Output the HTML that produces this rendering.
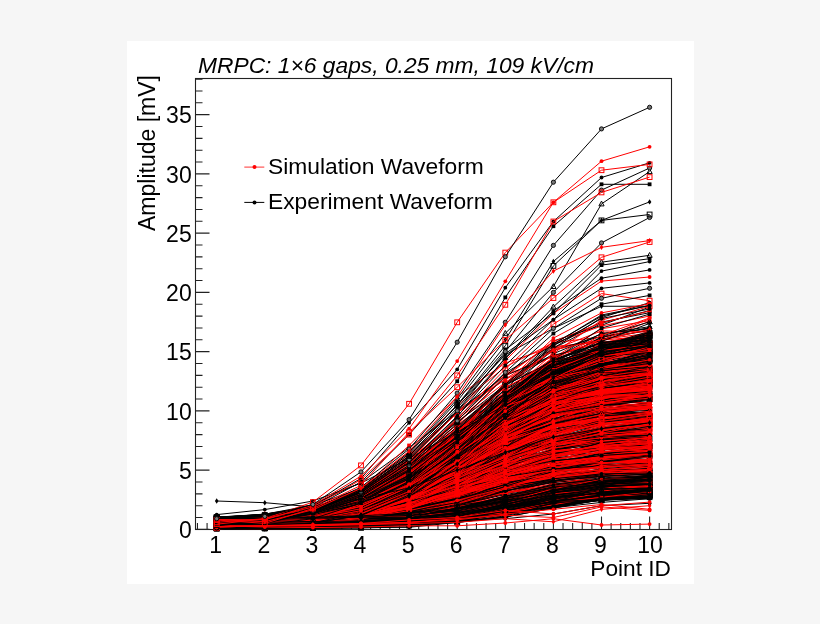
<!DOCTYPE html>
<html><head><meta charset="utf-8"><style>
html,body{margin:0;padding:0;background:#f6f6f6;width:820px;height:624px;overflow:hidden}
svg{display:block;filter:blur(0.35px)}
text{font-family:'Liberation Sans', sans-serif;font-size:23.0px;fill:#000}
.k,.r{fill:none;stroke-width:1.0}
.k{stroke:#000} .r{stroke:#f00}
.kc{marker-start:url(#mkc);marker-mid:url(#mkc);marker-end:url(#mkc)}.kq{marker-start:url(#mkq);marker-mid:url(#mkq);marker-end:url(#mkq)}.ks{marker-start:url(#mks);marker-mid:url(#mks);marker-end:url(#mks)}.ko{marker-start:url(#mko);marker-mid:url(#mko);marker-end:url(#mko)}.kt{marker-start:url(#mkt);marker-mid:url(#mkt);marker-end:url(#mkt)}.kd{marker-start:url(#mkd);marker-mid:url(#mkd);marker-end:url(#mkd)}.rc{marker-start:url(#mrc);marker-mid:url(#mrc);marker-end:url(#mrc)}.rq{marker-start:url(#mrq);marker-mid:url(#mrq);marker-end:url(#mrq)}.rs{marker-start:url(#mrs);marker-mid:url(#mrs);marker-end:url(#mrs)}.ro{marker-start:url(#mro);marker-mid:url(#mro);marker-end:url(#mro)}.rt{marker-start:url(#mrt);marker-mid:url(#mrt);marker-end:url(#mrt)}.rd{marker-start:url(#mrd);marker-mid:url(#mrd);marker-end:url(#mrd)}
</style></head><body>
<svg width="820" height="624" viewBox="0 0 820 624">
<defs><marker id="mkc" markerUnits="userSpaceOnUse" markerWidth="10" markerHeight="10" refX="5" refY="5" overflow="visible"><circle cx="5" cy="5" r="1.9" fill="#000"/></marker><marker id="mkq" markerUnits="userSpaceOnUse" markerWidth="10" markerHeight="10" refX="5" refY="5" overflow="visible"><rect x="3.1" y="3.1" width="3.8" height="3.8" fill="#000"/></marker><marker id="mks" markerUnits="userSpaceOnUse" markerWidth="10" markerHeight="10" refX="5" refY="5" overflow="visible"><rect x="2.6" y="2.6" width="4.8" height="4.8" fill="none" stroke="#000" stroke-width="1"/></marker><marker id="mko" markerUnits="userSpaceOnUse" markerWidth="10" markerHeight="10" refX="5" refY="5" overflow="visible"><circle cx="5" cy="5" r="2.1" fill="#777" stroke="#000" stroke-width="0.9"/></marker><marker id="mkt" markerUnits="userSpaceOnUse" markerWidth="10" markerHeight="10" refX="5" refY="5" overflow="visible"><path d="M5 2.2L7.6 7H2.4Z" fill="none" stroke="#000" stroke-width="1"/></marker><marker id="mkd" markerUnits="userSpaceOnUse" markerWidth="10" markerHeight="10" refX="5" refY="5" overflow="visible"><path d="M5 2.3L6.8 5L5 7.7L3.2 5Z" fill="#000"/></marker><marker id="mrc" markerUnits="userSpaceOnUse" markerWidth="10" markerHeight="10" refX="5" refY="5" overflow="visible"><circle cx="5" cy="5" r="1.9" fill="#f00"/></marker><marker id="mrq" markerUnits="userSpaceOnUse" markerWidth="10" markerHeight="10" refX="5" refY="5" overflow="visible"><rect x="3.1" y="3.1" width="3.8" height="3.8" fill="#f00"/></marker><marker id="mrs" markerUnits="userSpaceOnUse" markerWidth="10" markerHeight="10" refX="5" refY="5" overflow="visible"><rect x="2.6" y="2.6" width="4.8" height="4.8" fill="none" stroke="#f00" stroke-width="1"/></marker><marker id="mro" markerUnits="userSpaceOnUse" markerWidth="10" markerHeight="10" refX="5" refY="5" overflow="visible"><circle cx="5" cy="5" r="2.1" fill="#777" stroke="#f00" stroke-width="0.9"/></marker><marker id="mrt" markerUnits="userSpaceOnUse" markerWidth="10" markerHeight="10" refX="5" refY="5" overflow="visible"><path d="M5 2.2L7.6 7H2.4Z" fill="none" stroke="#f00" stroke-width="1"/></marker><marker id="mrd" markerUnits="userSpaceOnUse" markerWidth="10" markerHeight="10" refX="5" refY="5" overflow="visible"><path d="M5 2.3L6.8 5L5 7.7L3.2 5Z" fill="#f00"/></marker></defs>
<rect x="127" y="41" width="567" height="543" fill="#fff"/>
<text x="198" y="72.6" font-style="italic" style="font-size:22.8px">MRPC: 1×6 gaps, 0.25 mm, 109 kV/cm</text>
<rect x="195.5" y="78.5" width="476.0" height="451.0" fill="none" stroke="#222" stroke-width="1.1"/>
<path d="M195.5 529.40h14 M195.5 517.55h7 M195.5 505.70h7 M195.5 493.85h7 M195.5 482.00h7 M195.5 470.15h14 M195.5 458.30h7 M195.5 446.45h7 M195.5 434.60h7 M195.5 422.75h7 M195.5 410.90h14 M195.5 399.05h7 M195.5 387.20h7 M195.5 375.35h7 M195.5 363.50h7 M195.5 351.65h14 M195.5 339.80h7 M195.5 327.95h7 M195.5 316.10h7 M195.5 304.25h7 M195.5 292.40h14 M195.5 280.55h7 M195.5 268.70h7 M195.5 256.85h7 M195.5 245.00h7 M195.5 233.15h14 M195.5 221.30h7 M195.5 209.45h7 M195.5 197.60h7 M195.5 185.75h7 M195.5 173.90h14 M195.5 162.05h7 M195.5 150.20h7 M195.5 138.35h7 M195.5 126.50h7 M195.5 114.65h14 M195.5 102.80h7 M195.5 90.95h7 M195.5 79.10h7 M197.46 529.5v-6.5 M207.08 529.5v-6.5 M216.70 529.5v-13 M226.32 529.5v-6.5 M235.94 529.5v-6.5 M245.56 529.5v-6.5 M255.18 529.5v-6.5 M264.80 529.5v-13 M274.42 529.5v-6.5 M284.04 529.5v-6.5 M293.66 529.5v-6.5 M303.28 529.5v-6.5 M312.90 529.5v-13 M322.52 529.5v-6.5 M332.14 529.5v-6.5 M341.76 529.5v-6.5 M351.38 529.5v-6.5 M361.00 529.5v-13 M370.62 529.5v-6.5 M380.24 529.5v-6.5 M389.86 529.5v-6.5 M399.48 529.5v-6.5 M409.10 529.5v-13 M418.72 529.5v-6.5 M428.34 529.5v-6.5 M437.96 529.5v-6.5 M447.58 529.5v-6.5 M457.20 529.5v-13 M466.82 529.5v-6.5 M476.44 529.5v-6.5 M486.06 529.5v-6.5 M495.68 529.5v-6.5 M505.30 529.5v-13 M514.92 529.5v-6.5 M524.54 529.5v-6.5 M534.16 529.5v-6.5 M543.78 529.5v-6.5 M553.40 529.5v-13 M563.02 529.5v-6.5 M572.64 529.5v-6.5 M582.26 529.5v-6.5 M591.88 529.5v-6.5 M601.50 529.5v-13 M611.12 529.5v-6.5 M620.74 529.5v-6.5 M630.36 529.5v-6.5 M639.98 529.5v-6.5 M649.60 529.5v-13 M659.22 529.5v-6.5 M668.84 529.5v-6.5" stroke="#222" stroke-width="1.1" fill="none"/>
<g>
<polyline points="216.7,520.3 264.8,521 312.9,516.7 361,512.4 409.1,503 457.2,485.6 505.3,468.3 553.4,458.2 601.5,453.6 649.6,452.8" class="k kd"/>
<polyline points="216.7,520.3 264.8,517.6 312.9,512.3 361,500.1 409.1,477.5 457.2,449.5 505.3,418.6 553.4,394.1 601.5,381.1 649.6,373.6" class="k kc"/>
<polyline points="216.7,525.6 264.8,525.7 312.9,518.9 361,509.7 409.1,493 457.2,469.1 505.3,439.5 553.4,407.2 601.5,387.9 649.6,377.8" class="k ks"/>
<polyline points="216.7,526.1 264.8,524.4 312.9,519.1 361,508.6 409.1,482.8 457.2,449 505.3,417.1 553.4,397 601.5,384.6 649.6,380.1" class="k kq"/>
<polyline points="216.7,522.9 264.8,523.4 312.9,515.3 361,504.9 409.1,482.6 457.2,444.2 505.3,409.1 553.4,387.6 601.5,381.3 649.6,376.4" class="k kq"/>
<polyline points="216.7,524.4 264.8,524.5 312.9,522.2 361,521.3 409.1,516.2 457.2,507.5 505.3,498 553.4,485.7 601.5,475.9 649.6,471" class="k ks"/>
<polyline points="216.7,520.3 264.8,518.2 312.9,517.3 361,513.8 409.1,505.7 457.2,495.8 505.3,484 553.4,474.8 601.5,470.6 649.6,466.2" class="k kt"/>
<polyline points="216.7,524.7 264.8,525 312.9,523 361,520.2 409.1,511.1 457.2,497.5 505.3,475.3 553.4,453.7 601.5,437.3 649.6,426.2" class="k kq"/>
<polyline points="216.7,525.5 264.8,525.6 312.9,523.9 361,522.3 409.1,518.2 457.2,504.6 505.3,484 553.4,461.3 601.5,448.3 649.6,442.5" class="k kq"/>
<polyline points="216.7,518.7 264.8,517.7 312.9,514.9 361,509.8 409.1,497 457.2,472.8 505.3,443.2 553.4,415.1 601.5,400.8 649.6,392.1" class="k kt"/>
<polyline points="216.7,524.7 264.8,523.6 312.9,522.2 361,517.5 409.1,506.6 457.2,484.2 505.3,450.8 553.4,417.3 601.5,395.2 649.6,382.5" class="k kq"/>
<polyline points="216.7,522.8 264.8,520.8 312.9,514.3 361,504.3 409.1,485.8 457.2,460.3 505.3,430.4 553.4,403.9 601.5,387.7 649.6,381.7" class="k kt"/>
<polyline points="216.7,520.8 264.8,520.1 312.9,518.2 361,512.1 409.1,500.6 457.2,477.2 505.3,446.1 553.4,415 601.5,395.2 649.6,386.5" class="k ks"/>
<polyline points="216.7,519.2 264.8,517.8 312.9,512.3 361,500.8 409.1,483.2 457.2,456.6 505.3,434.7 553.4,416.4 601.5,408.4 649.6,407.4" class="k kd"/>
<polyline points="216.7,518.8 264.8,516.5 312.9,512.7 361,502.5 409.1,487.1 457.2,467 505.3,444.6 553.4,427.4 601.5,413.9 649.6,412.7" class="k kc"/>
<polyline points="216.7,526.6 264.8,527.2 312.9,524.3 361,518.6 409.1,504.9 457.2,476.9 505.3,428.1 553.4,382.9 601.5,358 649.6,340.8" class="r rc"/>
<polyline points="216.7,520 264.8,517.9 312.9,515.8 361,509 409.1,494.6 457.2,473.1 505.3,449.8 553.4,437.2 601.5,431.2 649.6,428.8" class="k kc"/>
<polyline points="216.7,524.1 264.8,522.3 312.9,521.8 361,517 409.1,507.4 457.2,491.1 505.3,477 553.4,469.9 601.5,465.5 649.6,462.1" class="r rs"/>
<polyline points="216.7,518.6 264.8,515.4 312.9,513 361,504.1 409.1,487.1 457.2,460.9 505.3,433.9 553.4,410.1 601.5,397.5 649.6,392.2" class="k kq"/>
<polyline points="216.7,525.3 264.8,523.5 312.9,519.8 361,512.1 409.1,498.2 457.2,477.8 505.3,456.5 553.4,439.1 601.5,424.5 649.6,420.5" class="k kq"/>
<polyline points="216.7,525 264.8,523 312.9,516 361,506.7 409.1,489.7 457.2,468.4 505.3,453.3 553.4,444.4 601.5,441.7 649.6,438.4" class="r rc"/>
<polyline points="216.7,524.2 264.8,524.5 312.9,518.5 361,510.9 409.1,498.3 457.2,474.7 505.3,447.9 553.4,428.1 601.5,409.5 649.6,402" class="r rc"/>
<polyline points="216.7,526 264.8,524.8 312.9,522.7 361,517.4 409.1,501.3 457.2,474.5 505.3,440.2 553.4,410.2 601.5,393.8 649.6,390.6" class="k kd"/>
<polyline points="216.7,517.6 264.8,515.6 312.9,514.8 361,510 409.1,495.9 457.2,469.8 505.3,434.7 553.4,404.3 601.5,395.9 649.6,390.3" class="k kc"/>
<polyline points="216.7,528.1 264.8,527.7 312.9,522.8 361,517.4 409.1,505.4 457.2,480.3 505.3,451.7 553.4,426.8 601.5,409.3 649.6,403.7" class="r rc"/>
<polyline points="216.7,524.9 264.8,524.5 312.9,521.5 361,516.9 409.1,510 457.2,492.5 505.3,469.7 553.4,448.6 601.5,438.1 649.6,430.2" class="k kc"/>
<polyline points="216.7,525.8 264.8,523.6 312.9,523.9 361,519.9 409.1,513.1 457.2,499.6 505.3,483.9 553.4,471.4 601.5,465.6 649.6,463.7" class="r rc"/>
<polyline points="216.7,521.7 264.8,516.8 312.9,508.8 361,489.7 409.1,460.9 457.2,424.6 505.3,392.6 553.4,375.7 601.5,358.6 649.6,359.3" class="r rq"/>
<polyline points="216.7,521.7 264.8,518 312.9,511.4 361,495.6 409.1,471.3 457.2,441.5 505.3,410.7 553.4,393.8 601.5,379.6 649.6,374" class="r rs"/>
<polyline points="216.7,525.2 264.8,521.1 312.9,509.7 361,490.6 409.1,456.7 457.2,412.8 505.3,375 553.4,356.3 601.5,340.1 649.6,336.2" class="r rc"/>
<polyline points="216.7,527.2 264.8,525.8 312.9,522 361,512.8 409.1,495.7 457.2,466.9 505.3,430.2 553.4,404.3 601.5,387.5 649.6,379.7" class="k kd"/>
<polyline points="216.7,520.8 264.8,518.5 312.9,509.8 361,495.5 409.1,472.1 457.2,443.3 505.3,418.9 553.4,407.3 601.5,397 649.6,395.4" class="r rc"/>
<polyline points="216.7,522.9 264.8,522.9 312.9,519.3 361,512 409.1,497.6 457.2,472.3 505.3,438.4 553.4,406.4 601.5,392.5 649.6,381.4" class="r rc"/>
<polyline points="216.7,519.9 264.8,518.7 312.9,517 361,512.6 409.1,498.9 457.2,472.2 505.3,435.5 553.4,407.2 601.5,393.7 649.6,389.3" class="r rc"/>
<polyline points="216.7,518.9 264.8,517.4 312.9,514.2 361,508.1 409.1,496.6 457.2,478.4 505.3,454 553.4,433 601.5,416.1 649.6,406" class="k kq"/>
<polyline points="216.7,526.2 264.8,524.7 312.9,522.3 361,512.9 409.1,495.7 457.2,462 505.3,421.9 553.4,390.8 601.5,373.6 649.6,365.4" class="r rd"/>
<polyline points="216.7,518.3 264.8,518.8 312.9,516.9 361,512.1 409.1,501.2 457.2,476.2 505.3,435 553.4,395.6 601.5,370 649.6,359.8" class="k kt"/>
<polyline points="216.7,524.2 264.8,522.2 312.9,519.7 361,512.8 409.1,500.3 457.2,480.2 505.3,460.2 553.4,439 601.5,432.6 649.6,426.7" class="r rq"/>
<polyline points="216.7,524.6 264.8,522.9 312.9,520.6 361,512.5 409.1,495.5 457.2,467.4 505.3,431.9 553.4,400.2 601.5,381.7 649.6,371.3" class="r rc"/>
<polyline points="216.7,522.9 264.8,519.4 312.9,513.1 361,497.9 409.1,472.9 457.2,437.7 505.3,407.2 553.4,381.5 601.5,369.6 649.6,366.2" class="r rd"/>
<polyline points="216.7,526.4 264.8,520 312.9,510.5 361,491.8 409.1,462.6 457.2,433.3 505.3,408.7 553.4,392.9 601.5,387.9 649.6,380.7" class="r rd"/>
<polyline points="216.7,523.6 264.8,523.8 312.9,521.6 361,519.9 409.1,514.2 457.2,500.3 505.3,483.3 553.4,469.1 601.5,458.3 649.6,455" class="r rq"/>
<polyline points="216.7,526.6 264.8,525.6 312.9,520.6 361,511.8 409.1,487.6 457.2,450.8 505.3,409.2 553.4,373.8 601.5,349.2 649.6,340.9" class="r rc"/>
<polyline points="216.7,526.4 264.8,525 312.9,522.9 361,517.1 409.1,500.3 457.2,470.4 505.3,429.3 553.4,391.3 601.5,374.1 649.6,365.8" class="k kt"/>
<polyline points="216.7,522.1 264.8,522.6 312.9,518.2 361,509.8 409.1,492.1 457.2,458.3 505.3,420.2 553.4,392.1 601.5,376.5 649.6,372" class="r rc"/>
<polyline points="216.7,521.8 264.8,517.3 312.9,514.8 361,502.8 409.1,482.7 457.2,454.9 505.3,425.9 553.4,403.4 601.5,390.3 649.6,384.3" class="r rc"/>
<polyline points="216.7,521.2 264.8,519.6 312.9,517.5 361,510 409.1,497.7 457.2,476.6 505.3,454.5 553.4,434.2 601.5,422.8 649.6,419" class="r rd"/>
<polyline points="216.7,525.5 264.8,523.4 312.9,521.4 361,511.9 409.1,494.3 457.2,462.4 505.3,431.3 553.4,409.4 601.5,401.8 649.6,399" class="r rq"/>
<polyline points="216.7,518.6 264.8,517.3 312.9,512.9 361,503.8 409.1,485.8 457.2,460.2 505.3,425.4 553.4,396.3 601.5,377.8 649.6,368.2" class="k kc"/>
<polyline points="216.7,525.6 264.8,523.1 312.9,519.8 361,509.2 409.1,487.8 457.2,449.8 505.3,406.6 553.4,368.4 601.5,350.3 649.6,338.2" class="r rc"/>
<polyline points="216.7,527.6 264.8,525.6 312.9,517.2 361,504.1 409.1,482.9 457.2,451.9 505.3,418.9 553.4,397.8 601.5,381.7 649.6,375.5" class="r rc"/>
<polyline points="216.7,527.5 264.8,526.9 312.9,524.2 361,513.4 409.1,497.4 457.2,465.1 505.3,424.5 553.4,389.3 601.5,373.2 649.6,363" class="k kc"/>
<polyline points="216.7,527.7 264.8,527.3 312.9,522.7 361,512.8 409.1,490.5 457.2,453.6 505.3,412 553.4,383.1 601.5,364.8 649.6,359" class="k kc"/>
<polyline points="216.7,524.7 264.8,524.4 312.9,520.4 361,516.9 409.1,506.1 457.2,492.3 505.3,475.6 553.4,461.6 601.5,454.1 649.6,449.8" class="k kc"/>
<polyline points="216.7,527.8 264.8,523.8 312.9,515.2 361,499.8 409.1,471 457.2,431.4 505.3,385 553.4,341 601.5,325.3 649.6,307" class="k kc"/>
<polyline points="216.7,524 264.8,521.1 312.9,516 361,504.3 409.1,480 457.2,449.7 505.3,413.6 553.4,389.6 601.5,375.4 649.6,364.8" class="r rc"/>
<polyline points="216.7,523.5 264.8,522.3 312.9,514.8 361,506.4 409.1,488.4 457.2,463.2 505.3,441.7 553.4,425.2 601.5,419.5 649.6,415.1" class="r rc"/>
<polyline points="216.7,526.4 264.8,526.6 312.9,525.6 361,526.6 409.1,524.9 457.2,517.5 505.3,506.5 553.4,493 601.5,485.1 649.6,481.4" class="k kt"/>
<polyline points="216.7,522.8 264.8,521.8 312.9,519.4 361,515.2 409.1,508.1 457.2,495.9 505.3,486.5 553.4,476.4 601.5,472.1 649.6,468" class="k kd"/>
<polyline points="216.7,526.4 264.8,526.5 312.9,521 361,512.6 409.1,493.1 457.2,461.9 505.3,431.9 553.4,414.5 601.5,402.4 649.6,402.6" class="r rc"/>
<polyline points="216.7,525 264.8,523.6 312.9,521.2 361,512.5 409.1,494.4 457.2,465.9 505.3,435.6 553.4,415.4 601.5,405.7 649.6,398.2" class="r rc"/>
<polyline points="216.7,528.6 264.8,528.3 312.9,527 361,526.4 409.1,522.6 457.2,518 505.3,507.7 553.4,498.8 601.5,491.7 649.6,488.1" class="k kc"/>
<polyline points="216.7,523.5 264.8,519.2 312.9,514 361,500.5 409.1,476.5 457.2,446.1 505.3,404.5 553.4,369.5 601.5,349.1 649.6,335.4" class="k kq"/>
<polyline points="216.7,527.8 264.8,528.5 312.9,528.5 361,525.8 409.1,522.9 457.2,512.6 505.3,498.4 553.4,485.5 601.5,480.5 649.6,479.4" class="k kt"/>
<polyline points="216.7,525.5 264.8,523.6 312.9,517.3 361,506.4 409.1,488.6 457.2,465.9 505.3,442.3 553.4,425.6 601.5,415.2 649.6,407.3" class="k kc"/>
<polyline points="216.7,522.2 264.8,520.1 312.9,516.6 361,508.8 409.1,494 457.2,477.1 505.3,459.7 553.4,450 601.5,443.3 649.6,442.2" class="r rt"/>
<polyline points="216.7,525.1 264.8,526.1 312.9,524.2 361,523.1 409.1,521.5 457.2,514.5 505.3,502.7 553.4,491.4 601.5,484.3 649.6,481.1" class="r rc"/>
<polyline points="216.7,517.9 264.8,517.8 312.9,518.1 361,516 409.1,515.6 457.2,512.8 505.3,507 553.4,500 601.5,495 649.6,491.3" class="k kc"/>
<polyline points="216.7,522.2 264.8,520.9 312.9,519.1 361,513.9 409.1,500.5 457.2,473.8 505.3,436.2 553.4,395.2 601.5,373 649.6,362.1" class="k kc"/>
<polyline points="216.7,520.2 264.8,520.3 312.9,520.2 361,518.5 409.1,514.9 457.2,508.6 505.3,501.8 553.4,494.5 601.5,493.1 649.6,489.6" class="k kd"/>
<polyline points="216.7,526.9 264.8,523.4 312.9,521.2 361,512.7 409.1,497.4 457.2,474.9 505.3,450.1 553.4,429.5 601.5,413.5 649.6,406.8" class="r rc"/>
<polyline points="216.7,518.7 264.8,518 312.9,515.1 361,509.7 409.1,496 457.2,468.3 505.3,434.7 553.4,400.1 601.5,383.5 649.6,372.7" class="k kd"/>
<polyline points="216.7,522.3 264.8,521 312.9,517.3 361,509.9 409.1,496.6 457.2,481 505.3,465.4 553.4,455.1 601.5,447.1 649.6,446.2" class="r rq"/>
<polyline points="216.7,521.6 264.8,518.6 312.9,514.2 361,503.5 409.1,479.6 457.2,442.1 505.3,398.1 553.4,367.6 601.5,344.5 649.6,334" class="k kc"/>
<polyline points="216.7,524.9 264.8,520.1 312.9,511.3 361,494.6 409.1,459 457.2,412.2 505.3,379.1 553.4,348.1 601.5,339.5 649.6,333.1" class="r rc"/>
<polyline points="216.7,525.1 264.8,522.6 312.9,518 361,508 409.1,488.7 457.2,456.4 505.3,418.2 553.4,380.7 601.5,361.2 649.6,346.8" class="r rt"/>
<polyline points="216.7,521.6 264.8,522 312.9,521.2 361,520.8 409.1,520.4 457.2,516.9 505.3,514.6 553.4,507.8 601.5,502.4 649.6,498.7" class="k kc"/>
<polyline points="216.7,521.7 264.8,521.2 312.9,518.8 361,510.2 409.1,494.9 457.2,466.6 505.3,425.9 553.4,396.2 601.5,376.7 649.6,371.4" class="r rc"/>
<polyline points="216.7,524.6 264.8,522.6 312.9,519.7 361,512.3 409.1,501.7 457.2,486.1 505.3,469.1 553.4,460.4 601.5,452 649.6,448.4" class="r rt"/>
<polyline points="216.7,521.8 264.8,519.7 312.9,511.4 361,497 409.1,471.2 457.2,433.6 505.3,395.1 553.4,363.2 601.5,349.4 649.6,337.2" class="k kq"/>
<polyline points="216.7,524.2 264.8,524.6 312.9,523.4 361,521.9 409.1,518.4 457.2,512.2 505.3,503.6 553.4,492.5 601.5,487.8 649.6,484.8" class="k kc"/>
<polyline points="216.7,526.4 264.8,524.5 312.9,520.2 361,510.7 409.1,494.7 457.2,471.8 505.3,447.4 553.4,429.5 601.5,419.2 649.6,412.2" class="k kc"/>
<polyline points="216.7,525.7 264.8,524.2 312.9,518.7 361,512 409.1,496.9 457.2,478.9 505.3,458.7 553.4,444.4 601.5,433.6 649.6,429.3" class="r rt"/>
<polyline points="216.7,520.7 264.8,519.3 312.9,518.7 361,512.8 409.1,506.3 457.2,496.3 505.3,485.5 553.4,474.7 601.5,469.7 649.6,469.1" class="r rc"/>
<polyline points="216.7,521.1 264.8,517.8 312.9,513.3 361,503.1 409.1,485 457.2,457.9 505.3,429.9 553.4,405.5 601.5,389.5 649.6,382.1" class="k kq"/>
<polyline points="216.7,523.2 264.8,523.5 312.9,523 361,520.8 409.1,519.6 457.2,512.7 505.3,501 553.4,494.3 601.5,489.5 649.6,487" class="r rc"/>
<polyline points="216.7,526.5 264.8,525.4 312.9,525 361,519.5 409.1,511.5 457.2,500.7 505.3,489.5 553.4,478.5 601.5,474.2 649.6,471.7" class="k ks"/>
<polyline points="216.7,525.8 264.8,522.1 312.9,516 361,501.4 409.1,478.1 457.2,447.1 505.3,416.9 553.4,395.1 601.5,380 649.6,370.5" class="r rs"/>
<polyline points="216.7,527.9 264.8,525.7 312.9,518.1 361,502.5 409.1,478.5 457.2,444.6 505.3,414 553.4,394.4 601.5,382.6 649.6,381.2" class="r rs"/>
<polyline points="216.7,527.7 264.8,524.5 312.9,519.5 361,508.5 409.1,487.3 457.2,455 505.3,420.9 553.4,396.4 601.5,376.4 649.6,371.3" class="k kc"/>
<polyline points="216.7,523.4 264.8,523 312.9,519.3 361,509.6 409.1,489.7 457.2,452.8 505.3,416.6 553.4,393.3 601.5,382.8 649.6,374.2" class="k kd"/>
<polyline points="216.7,519.4 264.8,517.5 312.9,514 361,506 409.1,493.2 457.2,473.1 505.3,451.5 553.4,436.9 601.5,429.7 649.6,424.8" class="k kt"/>
<polyline points="216.7,521.2 264.8,521.9 312.9,518.8 361,515.2 409.1,508 457.2,494.3 505.3,478.7 553.4,468.2 601.5,462.3 649.6,459.6" class="k kc"/>
<polyline points="216.7,525.8 264.8,524.3 312.9,517.6 361,504.4 409.1,479.4 457.2,439.8 505.3,400.7 553.4,370.1 601.5,348.8 649.6,339.9" class="k kc"/>
<polyline points="216.7,528.5 264.8,528.1 312.9,522.1 361,510.2 409.1,491.2 457.2,450.6 505.3,406.9 553.4,374.8 601.5,354.2 649.6,352.2" class="k kd"/>
<polyline points="216.7,522.8 264.8,523.4 312.9,522.7 361,522.1 409.1,518.9 457.2,514.5 505.3,505.5 553.4,493 601.5,487.2 649.6,483.9" class="k kt"/>
<polyline points="216.7,528.8 264.8,525.6 312.9,519 361,501.9 409.1,475.9 457.2,432.3 505.3,382.7 553.4,348.4 601.5,323.3 649.6,310.5" class="k kq"/>
<polyline points="216.7,528.4 264.8,527.2 312.9,526.5 361,524.6 409.1,519.3 457.2,507.6 505.3,489.7 553.4,470.5 601.5,457 649.6,448.6" class="k kc"/>
<polyline points="216.7,522.7 264.8,520.7 312.9,516.5 361,507.8 409.1,494.5 457.2,477.2 505.3,459.7 553.4,446.3 601.5,436.7 649.6,432.7" class="r rt"/>
<polyline points="216.7,520.6 264.8,519.8 312.9,519.8 361,515.6 409.1,509.2 457.2,497.9 505.3,488.2 553.4,480.4 601.5,476.3 649.6,473.1" class="r rc"/>
<polyline points="216.7,523.8 264.8,521.5 312.9,517.8 361,506.6 409.1,489.4 457.2,460.5 505.3,424.2 553.4,395.5 601.5,373.6 649.6,361.5" class="r rc"/>
<polyline points="216.7,525.4 264.8,524.8 312.9,523.4 361,519.9 409.1,512.4 457.2,502.2 505.3,489.3 553.4,480.5 601.5,476.1 649.6,473.2" class="r rd"/>
<polyline points="216.7,522.9 264.8,521.6 312.9,522.6 361,519.4 409.1,517.3 457.2,511.1 505.3,504.9 553.4,498.8 601.5,495.9 649.6,493.3" class="r rc"/>
<polyline points="216.7,527.9 264.8,526.6 312.9,519.3 361,508.7 409.1,487.4 457.2,457.5 505.3,422.6 553.4,398.6 601.5,382 649.6,378.2" class="r rs"/>
<polyline points="216.7,527.3 264.8,526 312.9,522.7 361,511.4 409.1,491.2 457.2,455.3 505.3,415.9 553.4,383.2 601.5,362.9 649.6,357.3" class="k kc"/>
<polyline points="216.7,522.3 264.8,521.5 312.9,521.4 361,520.5 409.1,517.5 457.2,512.5 505.3,505.3 553.4,498.2 601.5,494 649.6,491.5" class="k kq"/>
<polyline points="216.7,520.1 264.8,519.6 312.9,519 361,513.9 409.1,507 457.2,491.1 505.3,475 553.4,467.8 601.5,461.7 649.6,460" class="r rc"/>
<polyline points="216.7,527.9 264.8,523.4 312.9,511.3 361,492.8 409.1,463.1 457.2,434.6 505.3,412.3 553.4,397 601.5,389.4 649.6,387" class="r rc"/>
<polyline points="216.7,518.1 264.8,515.7 312.9,511.3 361,500.2 409.1,476.4 457.2,444.3 505.3,408.9 553.4,384.8 601.5,372.6 649.6,369.9" class="k kc"/>
<polyline points="216.7,517.4 264.8,517 312.9,513.8 361,509.4 409.1,493.9 457.2,472.5 505.3,445.4 553.4,429.3 601.5,415.8 649.6,412.5" class="k kc"/>
<polyline points="216.7,522.2 264.8,521.6 312.9,518.1 361,510.6 409.1,493.6 457.2,457.1 505.3,410 553.4,375.6 601.5,353.4 649.6,345.2" class="k kq"/>
<polyline points="216.7,518.1 264.8,517.9 312.9,515.3 361,510.6 409.1,497.9 457.2,473.9 505.3,433.1 553.4,399.4 601.5,380.4 649.6,369.7" class="k kt"/>
<polyline points="216.7,528 264.8,524.3 312.9,520.3 361,508.7 409.1,487.1 457.2,457.1 505.3,414.2 553.4,375.7 601.5,347.6 649.6,332" class="k kd"/>
<polyline points="216.7,517.3 264.8,515.7 312.9,510.2 361,498.5 409.1,480.2 457.2,451.7 505.3,417.3 553.4,389.5 601.5,369.4 649.6,359.8" class="k ks"/>
<polyline points="216.7,526.7 264.8,525.8 312.9,525.7 361,523.7 409.1,517.8 457.2,507.2 505.3,491.7 553.4,481.6 601.5,476.3 649.6,476" class="r rq"/>
<polyline points="216.7,522.4 264.8,522 312.9,519.1 361,511.2 409.1,494.1 457.2,455.4 505.3,404.9 553.4,363.4 601.5,336.7 649.6,327.9" class="k kq"/>
<polyline points="216.7,522.9 264.8,523.4 312.9,522.3 361,523.6 409.1,519.8 457.2,517.6 505.3,510.7 553.4,499.9 601.5,490.9 649.6,486.6" class="k kc"/>
<polyline points="216.7,521.5 264.8,520.7 312.9,515.9 361,505.5 409.1,481.2 457.2,445 505.3,405.3 553.4,379.9 601.5,369.7 649.6,365.8" class="r rc"/>
<polyline points="216.7,524.8 264.8,524.3 312.9,524.4 361,523 409.1,519.2 457.2,511.3 505.3,496.2 553.4,489.1 601.5,484.6 649.6,482.7" class="r rd"/>
<polyline points="216.7,523.5 264.8,522.1 312.9,516.4 361,509.2 409.1,493.9 457.2,471.1 505.3,444.6 553.4,419.2 601.5,403.2 649.6,394.6" class="r rq"/>
<polyline points="216.7,521.3 264.8,517.6 312.9,509.5 361,491.1 409.1,461.8 457.2,419.6 505.3,382.3 553.4,362.4 601.5,348.8 649.6,345.5" class="r rc"/>
<polyline points="216.7,521.9 264.8,521.2 312.9,521.7 361,517.5 409.1,513 457.2,505.3 505.3,493.6 553.4,484.8 601.5,478.8 649.6,476.1" class="r rc"/>
<polyline points="216.7,526.1 264.8,526.2 312.9,523.7 361,519.4 409.1,506.7 457.2,483.7 505.3,451.4 553.4,423.8 601.5,408.8 649.6,404.4" class="k kc"/>
<polyline points="216.7,523.6 264.8,520.3 312.9,518 361,510.6 409.1,495.5 457.2,475.5 505.3,455.3 553.4,437.1 601.5,428.3 649.6,423.5" class="k ks"/>
<polyline points="216.7,524.6 264.8,522.1 312.9,519.4 361,507.9 409.1,488.7 457.2,455.7 505.3,421.1 553.4,402.2 601.5,390.2 649.6,386.7" class="k kc"/>
<polyline points="216.7,522.4 264.8,522.5 312.9,521.8 361,521.9 409.1,518.9 457.2,513 505.3,505.1 553.4,494.4 601.5,485.3 649.6,480.3" class="k kq"/>
<polyline points="216.7,526.6 264.8,524.4 312.9,521.2 361,510.7 409.1,492.6 457.2,462 505.3,425.6 553.4,401.3 601.5,383.3 649.6,373.9" class="r rc"/>
<polyline points="216.7,521.6 264.8,520.2 312.9,516.5 361,509.4 409.1,499 457.2,482 505.3,463.2 553.4,448.6 601.5,438.4 649.6,433.7" class="k kc"/>
<polyline points="216.7,522 264.8,521.6 312.9,521.9 361,520.1 409.1,521.1 457.2,518.7 505.3,514.8 553.4,503.7 601.5,493.5 649.6,487.3" class="k kq"/>
<polyline points="216.7,521.5 264.8,520.5 312.9,519.9 361,515.5 409.1,505.8 457.2,490.3 505.3,471.8 553.4,459.3 601.5,451.6 649.6,448.4" class="r rt"/>
<polyline points="216.7,528.8 264.8,528.5 312.9,527.2 361,522.8 409.1,514.6 457.2,498.9 505.3,483.1 553.4,469.8 601.5,465.1 649.6,463.2" class="k kt"/>
<polyline points="216.7,526.1 264.8,524.2 312.9,517 361,504.4 409.1,485 457.2,456.4 505.3,432.2 553.4,413 601.5,403.4 649.6,399.5" class="r rs"/>
<polyline points="216.7,528.3 264.8,525.9 312.9,518.6 361,503 409.1,475.5 457.2,438.9 505.3,410.6 553.4,386.5 601.5,377.7 649.6,372.5" class="r rs"/>
<polyline points="216.7,525 264.8,522.2 312.9,520.7 361,515 409.1,501.4 457.2,482.2 505.3,459.6 553.4,440.8 601.5,432.8 649.6,424.8" class="k kt"/>
<polyline points="216.7,526.4 264.8,523.9 312.9,522.5 361,512.8 409.1,496.8 457.2,468.4 505.3,440.4 553.4,418.3 601.5,409.9 649.6,406.4" class="k kc"/>
<polyline points="216.7,524.2 264.8,520.6 312.9,509.5 361,489.4 409.1,452.2 457.2,405.5 505.3,366.9 553.4,342.8 601.5,336.9 649.6,330.6" class="r rd"/>
<polyline points="216.7,522 264.8,522.1 312.9,517.9 361,511.4 409.1,499.7 457.2,476.4 505.3,446.3 553.4,413.7 601.5,393.5 649.6,383.9" class="k kd"/>
<polyline points="216.7,522 264.8,519.5 312.9,513.5 361,504.8 409.1,488.1 457.2,465.1 505.3,446.9 553.4,431.5 601.5,426.6 649.6,423.6" class="r rs"/>
<polyline points="216.7,519.9 264.8,520 312.9,519.2 361,518.8 409.1,516.9 457.2,512.1 505.3,500.2 553.4,486.8 601.5,479.4 649.6,475.4" class="r rc"/>
<polyline points="216.7,525.1 264.8,523.6 312.9,519.5 361,512.5 409.1,496.5 457.2,475.6 505.3,450.2 553.4,431.7 601.5,420.5 649.6,416.7" class="r rc"/>
<polyline points="216.7,527 264.8,526.8 312.9,526.6 361,523.1 409.1,521.2 457.2,514.3 505.3,502.5 553.4,491.8 601.5,483.7 649.6,478.4" class="r rc"/>
<polyline points="216.7,528.4 264.8,527.8 312.9,524.8 361,516.8 409.1,503.9 457.2,482.4 505.3,460.9 553.4,446.4 601.5,443.3 649.6,439.2" class="k kq"/>
<polyline points="216.7,526.7 264.8,523.5 312.9,518.3 361,505.5 409.1,484.6 457.2,455.2 505.3,425.1 553.4,401.7 601.5,385.8 649.6,379" class="r rq"/>
<polyline points="216.7,526.4 264.8,526.5 312.9,525.5 361,526.7 409.1,522.6 457.2,517.9 505.3,506.2 553.4,495.5 601.5,488.5 649.6,485.6" class="r rt"/>
<polyline points="216.7,528.1 264.8,526.4 312.9,520.4 361,507.9 409.1,483.5 457.2,445.7 505.3,396.9 553.4,360.7 601.5,338.6 649.6,318.7" class="r rc"/>
<polyline points="216.7,525.7 264.8,525.1 312.9,520.4 361,514.5 409.1,496.5 457.2,469.4 505.3,438.6 553.4,415.3 601.5,401.2 649.6,394" class="k ks"/>
<polyline points="216.7,524.4 264.8,521.7 312.9,518.6 361,507.4 409.1,490.4 457.2,468.5 505.3,448.8 553.4,438.3 601.5,432.1 649.6,427.3" class="r rs"/>
<polyline points="216.7,524.2 264.8,524 312.9,521.5 361,516.7 409.1,507.8 457.2,495.4 505.3,480 553.4,466.9 601.5,457.4 649.6,454.3" class="r rs"/>
<polyline points="216.7,521.5 264.8,520 312.9,518 361,516.4 409.1,509 457.2,495.5 505.3,481.4 553.4,471.2 601.5,467.4 649.6,464" class="r rs"/>
<polyline points="216.7,521.2 264.8,522.2 312.9,521.1 361,518.8 409.1,513.5 457.2,504.9 505.3,493.1 553.4,485.7 601.5,480 649.6,477.9" class="k kc"/>
<polyline points="216.7,522.2 264.8,520.3 312.9,518.4 361,512 409.1,500.2 457.2,479.8 505.3,458.2 553.4,447 601.5,438.7 649.6,436.2" class="r rq"/>
<polyline points="216.7,524 264.8,524 312.9,518.4 361,510.6 409.1,492.9 457.2,464 505.3,432.1 553.4,415 601.5,409.8 649.6,404.6" class="r rc"/>
<polyline points="216.7,519.6 264.8,517.7 312.9,518.3 361,519.1 409.1,516.8 457.2,511.7 505.3,502.8 553.4,495.6 601.5,489.7 649.6,485.8" class="k kq"/>
<polyline points="216.7,523.3 264.8,523.3 312.9,522 361,520.2 409.1,520.3 457.2,512.1 505.3,508.1 553.4,500.1 601.5,495.4 649.6,493.1" class="k kt"/>
<polyline points="216.7,520.8 264.8,519.2 312.9,513.6 361,501 409.1,481.7 457.2,453.4 505.3,422.1 553.4,399.6 601.5,380.7 649.6,376.4" class="r rq"/>
<polyline points="216.7,517.9 264.8,517.5 312.9,517.1 361,517.6 409.1,514.5 457.2,507.7 505.3,498.2 553.4,489.2 601.5,483.3 649.6,483.1" class="k kt"/>
<polyline points="216.7,520.9 264.8,519 312.9,514.8 361,505.9 409.1,487.9 457.2,459.3 505.3,424 553.4,399.1 601.5,382.1 649.6,373.8" class="r rc"/>
<polyline points="216.7,524.9 264.8,521.3 312.9,520.5 361,513.2 409.1,494.4 457.2,462.8 505.3,426.3 553.4,398.2 601.5,385.1 649.6,375.8" class="k kq"/>
<polyline points="216.7,517.9 264.8,516.2 312.9,513.6 361,507 409.1,489.7 457.2,461.2 505.3,430.6 553.4,405.7 601.5,394.6 649.6,392.6" class="k kt"/>
<polyline points="216.7,527.5 264.8,523.9 312.9,517.1 361,504.7 409.1,478.6 457.2,446.1 505.3,411.7 553.4,385.2 601.5,370.6 649.6,363.7" class="r rd"/>
<polyline points="216.7,525.2 264.8,523.4 312.9,519.3 361,511.4 409.1,497.2 457.2,478.4 505.3,459.3 553.4,447.1 601.5,439 649.6,435.1" class="k kc"/>
<polyline points="216.7,523.6 264.8,520.4 312.9,514.4 361,501.2 409.1,482.3 457.2,451.4 505.3,422.6 553.4,398.9 601.5,379.3 649.6,373.3" class="k kc"/>
<polyline points="216.7,523.4 264.8,522.1 312.9,518.1 361,511.2 409.1,496.5 457.2,474.6 505.3,448 553.4,426.3 601.5,416.5 649.6,407.7" class="r rq"/>
<polyline points="216.7,523.8 264.8,521.9 312.9,518.9 361,513.4 409.1,504 457.2,486.5 505.3,464.4 553.4,444.7 601.5,428.2 649.6,418.8" class="k kc"/>
<polyline points="216.7,523.9 264.8,521.6 312.9,517.8 361,507.6 409.1,487.2 457.2,454 505.3,423 553.4,403.1 601.5,391.8 649.6,384.2" class="r rs"/>
<polyline points="216.7,528.6 264.8,526.4 312.9,521.3 361,510.1 409.1,486.8 457.2,453.7 505.3,424.2 553.4,407.6 601.5,400.8 649.6,402.9" class="r rq"/>
<polyline points="216.7,525.1 264.8,524.3 312.9,520.3 361,516.5 409.1,506.4 457.2,492.6 505.3,478.7 553.4,467.5 601.5,461.5 649.6,460.1" class="k kc"/>
<polyline points="216.7,522.8 264.8,520.2 312.9,511.9 361,498 409.1,473.6 457.2,434.4 505.3,389.1 553.4,344.3 601.5,315 649.6,305.5" class="k kc"/>
<polyline points="216.7,523.5 264.8,521.6 312.9,520.8 361,513.7 409.1,501.3 457.2,488 505.3,479.8 553.4,475.5 601.5,474.9 649.6,474.1" class="r rs"/>
<polyline points="216.7,525.7 264.8,523.8 312.9,518.8 361,510.2 409.1,494 457.2,469.9 505.3,446.3 553.4,423.3 601.5,410 649.6,409.9" class="r rq"/>
<polyline points="216.7,525.6 264.8,522.6 312.9,521.6 361,516.2 409.1,505.3 457.2,492.7 505.3,480.8 553.4,473.1 601.5,466.2 649.6,464.8" class="k kc"/>
<polyline points="216.7,527 264.8,526.9 312.9,523.3 361,518.5 409.1,508.1 457.2,497.3 505.3,484.5 553.4,474 601.5,469.5 649.6,466" class="r rs"/>
<polyline points="216.7,523.2 264.8,521.2 312.9,518.4 361,509.5 409.1,484.9 457.2,448.3 505.3,401.9 553.4,365.8 601.5,349.8 649.6,344.3" class="r rc"/>
<polyline points="216.7,525.9 264.8,524.6 312.9,522.1 361,512.5 409.1,493.9 457.2,458.5 505.3,410.7 553.4,374.5 601.5,351.1 649.6,340.8" class="k kq"/>
<polyline points="216.7,522.3 264.8,518.4 312.9,513 361,500 409.1,480.4 457.2,454.4 505.3,428.7 553.4,407.8 601.5,394.5 649.6,392.5" class="r rq"/>
<polyline points="216.7,521.7 264.8,518.9 312.9,514.5 361,501.6 409.1,478.5 457.2,444.2 505.3,414.3 553.4,393.6 601.5,382.5 649.6,381.3" class="r rq"/>
<polyline points="216.7,528 264.8,522.7 312.9,519.8 361,509.2 409.1,489.5 457.2,457.3 505.3,426.4 553.4,398.5 601.5,380 649.6,374.4" class="k kc"/>
<polyline points="216.7,525.3 264.8,524.6 312.9,522.2 361,517.5 409.1,504.4 457.2,479.5 505.3,448.7 553.4,425.9 601.5,410.2 649.6,408.1" class="r rd"/>
<polyline points="216.7,526.8 264.8,524.2 312.9,517.3 361,504.5 409.1,478.2 457.2,439.9 505.3,395.8 553.4,367.4 601.5,347 649.6,343" class="r rc"/>
<polyline points="216.7,528.7 264.8,528.7 312.9,528.6 361,527.3 409.1,527.3 457.2,522.4 505.3,516.8 553.4,508.1 601.5,499.5 649.6,494.6" class="k kc"/>
<polyline points="216.7,528.2 264.8,524.6 312.9,519.9 361,510.8 409.1,489.8 457.2,454.9 505.3,416.2 553.4,379.3 601.5,357.7 649.6,347.7" class="k kt"/>
<polyline points="216.7,527.9 264.8,527.1 312.9,526.4 361,521.8 409.1,512.9 457.2,498.6 505.3,481.5 553.4,467.4 601.5,461.2 649.6,459.3" class="r rc"/>
<polyline points="216.7,526.2 264.8,522.7 312.9,515.5 361,501.6 409.1,478.7 457.2,449.1 505.3,419.6 553.4,391.3 601.5,380.4 649.6,375.4" class="r rq"/>
<polyline points="216.7,526.8 264.8,523.8 312.9,517.4 361,504.2 409.1,478.5 457.2,438.4 505.3,395.5 553.4,366.6 601.5,345.1 649.6,335.1" class="k ks"/>
<polyline points="216.7,519.8 264.8,518.9 312.9,517.4 361,511.7 409.1,498.1 457.2,476.3 505.3,455.6 553.4,440.4 601.5,435.5 649.6,433.1" class="k kc"/>
<polyline points="216.7,522.7 264.8,522.2 312.9,521 361,511.3 409.1,500.9 457.2,482.2 505.3,466.3 553.4,452.4 601.5,446.3 649.6,443.8" class="k kt"/>
<polyline points="216.7,518.6 264.8,517.5 312.9,513.2 361,507.3 409.1,492.7 457.2,468.8 505.3,438.4 553.4,410.4 601.5,390.1 649.6,381" class="k kc"/>
<polyline points="216.7,524.2 264.8,523.4 312.9,521.2 361,517.2 409.1,508.8 457.2,496.3 505.3,484.1 553.4,475.1 601.5,471.7 649.6,469.2" class="r rt"/>
<polyline points="216.7,525.8 264.8,524.6 312.9,519.3 361,507.4 409.1,489.6 457.2,457.8 505.3,423.9 553.4,399.8 601.5,384.6 649.6,376.2" class="r rc"/>
<polyline points="216.7,524 264.8,522.5 312.9,520.9 361,514.8 409.1,501.1 457.2,471.7 505.3,434.1 553.4,400.2 601.5,379.8 649.6,372.6" class="k ks"/>
<polyline points="216.7,521.2 264.8,520.8 312.9,517.3 361,509.3 409.1,494.8 457.2,472.9 505.3,447.8 553.4,433.8 601.5,425.4 649.6,423" class="r rq"/>
<polyline points="216.7,523.8 264.8,522.5 312.9,519.2 361,508.3 409.1,488.2 457.2,459.3 505.3,435 553.4,421 601.5,416 649.6,415.7" class="r rs"/>
<polyline points="216.7,526.9 264.8,526.3 312.9,525 361,521.4 409.1,513.4 457.2,500.4 505.3,482 553.4,468 601.5,459.4 649.6,455.2" class="k kc"/>
<polyline points="216.7,526.1 264.8,524.5 312.9,518.9 361,510 409.1,495 457.2,475.1 505.3,453.8 553.4,437.4 601.5,432.8 649.6,429.5" class="r rd"/>
<polyline points="216.7,525.5 264.8,523.2 312.9,516.1 361,502.9 409.1,481.4 457.2,445.2 505.3,411.3 553.4,387.5 601.5,372.3 649.6,365" class="k kc"/>
<polyline points="216.7,526.6 264.8,526 312.9,524.9 361,519.1 409.1,504.9 457.2,478.2 505.3,438.8 553.4,405.7 601.5,388 649.6,385.9" class="r rq"/>
<polyline points="216.7,525.6 264.8,524.1 312.9,522 361,513.5 409.1,502 457.2,483.4 505.3,466.8 553.4,451 601.5,442.1 649.6,441.9" class="r rd"/>
<polyline points="216.7,525.6 264.8,524.8 312.9,522.4 361,522.4 409.1,516.4 457.2,504.4 505.3,493.1 553.4,485.6 601.5,479 649.6,476.8" class="r rq"/>
<polyline points="216.7,517 264.8,514.6 312.9,513.5 361,508 409.1,500.6 457.2,487.3 505.3,470.8 553.4,457.4 601.5,449.6 649.6,442.6" class="k kc"/>
<polyline points="216.7,526 264.8,525.6 312.9,525.1 361,525 409.1,524 457.2,522.1 505.3,515.4 553.4,503.6 601.5,492 649.6,484.9" class="r rt"/>
<polyline points="216.7,522.9 264.8,521.7 312.9,518.8 361,515.2 409.1,508.4 457.2,498.3 505.3,486.5 553.4,477.5 601.5,472 649.6,468.9" class="r rc"/>
<polyline points="216.7,524.5 264.8,524.4 312.9,522.9 361,522.3 409.1,521.2 457.2,517 505.3,508.2 553.4,499.7 601.5,491.5 649.6,488.2" class="r rs"/>
<polyline points="216.7,523.8 264.8,523.2 312.9,519.5 361,513.4 409.1,497.9 457.2,464.8 505.3,431.2 553.4,411.1 601.5,400 649.6,397" class="r rs"/>
<polyline points="216.7,520.9 264.8,520.4 312.9,519.9 361,517.5 409.1,515.4 457.2,507.6 505.3,497.8 553.4,486.6 601.5,479.9 649.6,478.2" class="r rt"/>
<polyline points="216.7,528.4 264.8,528.2 312.9,523.8 361,517.9 409.1,502.6 457.2,480.1 505.3,457.3 553.4,444.7 601.5,436.8 649.6,434.2" class="r rc"/>
<polyline points="216.7,517.6 264.8,517.8 312.9,517.9 361,516.9 409.1,515.4 457.2,511.9 505.3,506.8 553.4,501 601.5,497.6 649.6,496.2" class="k kt"/>
<polyline points="216.7,521.8 264.8,522.7 312.9,518.6 361,515.7 409.1,506.3 457.2,493.3 505.3,478.9 553.4,469 601.5,464.3 649.6,463.9" class="r rc"/>
<polyline points="216.7,522 264.8,521.1 312.9,516.9 361,507.7 409.1,487.9 457.2,456.3 505.3,422.3 553.4,397.3 601.5,392.9 649.6,386.8" class="k kd"/>
<polyline points="216.7,528.1 264.8,526.7 312.9,522.1 361,514.7 409.1,498.6 457.2,473.8 505.3,443.4 553.4,414.4 601.5,391.3 649.6,380.5" class="r rc"/>
<polyline points="216.7,526.9 264.8,521.5 312.9,509.9 361,489.2 409.1,454.7 457.2,412.8 505.3,379.4 553.4,356.1 601.5,342.4 649.6,335.3" class="r rq"/>
<polyline points="216.7,519.5 264.8,520 312.9,519.7 361,518.2 409.1,513.6 457.2,505.7 505.3,499.2 553.4,489.3 601.5,484.4 649.6,482.8" class="k ks"/>
<polyline points="216.7,520 264.8,518.4 312.9,512.2 361,501.5 409.1,474.5 457.2,436.9 505.3,403.1 553.4,386.7 601.5,371.9 649.6,366.7" class="r rq"/>
<polyline points="216.7,517.2 264.8,518 312.9,513.5 361,504.3 409.1,486.9 457.2,450.3 505.3,420.2 553.4,390.6 601.5,379.1 649.6,375.9" class="k kq"/>
<polyline points="216.7,527.2 264.8,525.1 312.9,524.6 361,519.9 409.1,510.8 457.2,498.3 505.3,484.6 553.4,475.9 601.5,470.4 649.6,468.6" class="k kt"/>
<polyline points="216.7,527 264.8,524.4 312.9,520.8 361,512.9 409.1,494.9 457.2,472.4 505.3,451.4 553.4,436.5 601.5,431.3 649.6,429.2" class="r rc"/>
<polyline points="216.7,520.2 264.8,521.5 312.9,520.2 361,518 409.1,511.9 457.2,502.5 505.3,490.9 553.4,482.1 601.5,479.2 649.6,475.7" class="r rc"/>
<polyline points="216.7,521 264.8,518.5 312.9,511.4 361,494.9 409.1,468.6 457.2,434 505.3,394.5 553.4,371.1 601.5,359.3 649.6,347.6" class="k kc"/>
<polyline points="216.7,523.8 264.8,523.6 312.9,523.8 361,523.4 409.1,520.3 457.2,512.8 505.3,502.6 553.4,494.2 601.5,489.2 649.6,487.6" class="k kc"/>
<polyline points="216.7,524.2 264.8,523.3 312.9,521.7 361,515.9 409.1,501.1 457.2,474.9 505.3,444.1 553.4,424.4 601.5,415.8 649.6,412.3" class="r rq"/>
<polyline points="216.7,520.5 264.8,518.9 312.9,510.6 361,501.8 409.1,485.9 457.2,466.8 505.3,447.5 553.4,437.8 601.5,428.6 649.6,425.9" class="r rc"/>
<polyline points="216.7,517.3 264.8,514.1 312.9,506.6 361,493.9 409.1,470.1 457.2,438.8 505.3,403 553.4,368.9 601.5,354.1 649.6,341.3" class="k kc"/>
<polyline points="216.7,525.2 264.8,523.4 312.9,521.9 361,516.6 409.1,506.6 457.2,488.4 505.3,465.4 553.4,449.8 601.5,436.6 649.6,431.1" class="r rc"/>
<polyline points="216.7,521.4 264.8,521.1 312.9,520.7 361,518.4 409.1,515.3 457.2,504.5 505.3,491.2 553.4,479.2 601.5,469.7 649.6,466.7" class="r rc"/>
<polyline points="216.7,519.1 264.8,519.4 312.9,519.6 361,518.1 409.1,518.3 457.2,517.8 505.3,513.6 553.4,507.2 601.5,499.7 649.6,495.9" class="k ks"/>
<polyline points="216.7,524.6 264.8,522.1 312.9,520.8 361,512.4 409.1,497.4 457.2,470.2 505.3,444.7 553.4,427 601.5,420.9 649.6,418.7" class="r rc"/>
<polyline points="216.7,523.8 264.8,523.7 312.9,518.5 361,508.4 409.1,488.8 457.2,455.3 505.3,417.5 553.4,391.1 601.5,379 649.6,372.6" class="r rc"/>
<polyline points="216.7,525.3 264.8,524.1 312.9,521.4 361,509 409.1,487.1 457.2,447.2 505.3,404.4 553.4,371.4 601.5,360.7 649.6,352" class="r rd"/>
<polyline points="216.7,526.1 264.8,522.4 312.9,516.8 361,503.7 409.1,478.6 457.2,443 505.3,405 553.4,380.4 601.5,363.3 649.6,354.6" class="r rc"/>
<polyline points="216.7,523.5 264.8,522 312.9,519.6 361,514.4 409.1,498.3 457.2,472.7 505.3,437.1 553.4,398.2 601.5,375.6 649.6,365.2" class="r rt"/>
<polyline points="216.7,519.9 264.8,516.1 312.9,507.2 361,493.2 409.1,468.5 457.2,435.6 505.3,401.3 553.4,373.9 601.5,356.9 649.6,351.5" class="k kq"/>
<polyline points="216.7,526.3 264.8,524.5 312.9,520.6 361,509.9 409.1,489.9 457.2,457.7 505.3,424.1 553.4,399.8 601.5,385.8 649.6,379.3" class="r rs"/>
<polyline points="216.7,521.8 264.8,521.2 312.9,519.3 361,513.9 409.1,506 457.2,491.7 505.3,478.1 553.4,464.1 601.5,452.6 649.6,446.5" class="k ks"/>
<polyline points="216.7,523.4 264.8,522.7 312.9,522.5 361,515.9 409.1,506.5 457.2,487.4 505.3,466.5 553.4,452.8 601.5,446.1 649.6,443" class="k kc"/>
<polyline points="216.7,524.8 264.8,523.8 312.9,521.6 361,514.6 409.1,495.6 457.2,461.4 505.3,415.7 553.4,385.3 601.5,366.6 649.6,356.2" class="k kq"/>
<polyline points="216.7,520.4 264.8,519.3 312.9,516.9 361,512.3 409.1,503.1 457.2,486.4 505.3,468.9 553.4,455.8 601.5,449.4 649.6,445.2" class="r rt"/>
<polyline points="216.7,521.2 264.8,521.1 312.9,518.9 361,514.7 409.1,505.2 457.2,490.9 505.3,472.8 553.4,456.2 601.5,445.4 649.6,440.3" class="r rt"/>
<polyline points="216.7,523.7 264.8,522.7 312.9,522.4 361,515.8 409.1,508.5 457.2,488.1 505.3,462.2 553.4,436.4 601.5,424.3 649.6,418.1" class="k kq"/>
<polyline points="216.7,525.3 264.8,525.3 312.9,522.9 361,516.9 409.1,504.2 457.2,479.4 505.3,447.1 553.4,419.2 601.5,405.7 649.6,397.7" class="r rc"/>
<polyline points="216.7,525.1 264.8,524.5 312.9,520 361,510.8 409.1,496.5 457.2,473.8 505.3,447.4 553.4,429.7 601.5,416.7 649.6,411.4" class="r rd"/>
<polyline points="216.7,518.5 264.8,518.1 312.9,515.7 361,509.6 409.1,495.5 457.2,471.2 505.3,436.4 553.4,404.6 601.5,381.1 649.6,372" class="k ks"/>
<polyline points="216.7,520.3 264.8,516.2 312.9,510.6 361,497.3 409.1,473.9 457.2,441 505.3,397.9 553.4,368 601.5,344.7 649.6,332.9" class="k ks"/>
<polyline points="216.7,523.1 264.8,519.5 312.9,513.6 361,500 409.1,476.5 457.2,444.8 505.3,410.1 553.4,386.4 601.5,370.2 649.6,364.7" class="r rq"/>
<polyline points="216.7,526.5 264.8,523.9 312.9,519.8 361,510.8 409.1,487.2 457.2,455.1 505.3,421.2 553.4,402.4 601.5,394.1 649.6,389.3" class="r rq"/>
<polyline points="216.7,524.3 264.8,523.7 312.9,520.8 361,515.5 409.1,507.1 457.2,495.2 505.3,482.4 553.4,471.9 601.5,467.7 649.6,465" class="k kc"/>
<polyline points="216.7,525.6 264.8,525.9 312.9,524.8 361,524.6 409.1,523 457.2,517.7 505.3,507.8 553.4,495.8 601.5,489.9 649.6,486.9" class="k kc"/>
<polyline points="216.7,520.8 264.8,518.1 312.9,514.7 361,506.4 409.1,490.2 457.2,464.6 505.3,435.2 553.4,405.2 601.5,386 649.6,377.4" class="r rs"/>
<polyline points="216.7,528.4 264.8,525.3 312.9,518.9 361,503.3 409.1,481.3 457.2,449.7 505.3,418.5 553.4,394.1 601.5,381.3 649.6,375.1" class="r rc"/>
<polyline points="216.7,518.8 264.8,516.8 312.9,512.8 361,502.1 409.1,482.4 457.2,447.9 505.3,408.4 553.4,384.6 601.5,365 649.6,358.1" class="k kd"/>
<polyline points="216.7,528.2 264.8,527.5 312.9,524.3 361,515.7 409.1,498.4 457.2,469.9 505.3,439.2 553.4,417.5 601.5,403.3 649.6,395.6" class="r rt"/>
<polyline points="216.7,521.8 264.8,519.4 312.9,512.3 361,503.1 409.1,485.5 457.2,466.9 505.3,451.2 553.4,444.7 601.5,439.3 649.6,439.8" class="r rd"/>
<polyline points="216.7,527.6 264.8,527.6 312.9,527.2 361,525.4 409.1,524.4 457.2,520.3 505.3,511.9 553.4,503.7 601.5,496.4 649.6,491.6" class="r rc"/>
<polyline points="216.7,522.2 264.8,520.8 312.9,517.6 361,510.8 409.1,502 457.2,486.9 505.3,471.4 553.4,462.7 601.5,455.5 649.6,451.6" class="r rq"/>
<polyline points="216.7,519 264.8,519 312.9,517.4 361,516.3 409.1,515.5 457.2,510.5 505.3,502.5 553.4,494.6 601.5,488.4 649.6,484.7" class="k kc"/>
<polyline points="216.7,522.5 264.8,520 312.9,516.2 361,506.5 409.1,491.4 457.2,465.5 505.3,442.3 553.4,422.8 601.5,413.2 649.6,412.2" class="k kq"/>
<polyline points="216.7,528.6 264.8,526 312.9,520.1 361,509.3 409.1,488 457.2,456.6 505.3,418.5 553.4,387.3 601.5,370.8 649.6,359.3" class="r rq"/>
<polyline points="216.7,522.6 264.8,521.9 312.9,519.6 361,513.4 409.1,498.7 457.2,472.8 505.3,445.6 553.4,426.9 601.5,420 649.6,410.5" class="r rq"/>
<polyline points="216.7,524.4 264.8,524.2 312.9,519.6 361,512.6 409.1,495.7 457.2,467.3 505.3,434.2 553.4,404.4 601.5,386.6 649.6,379.9" class="r rs"/>
<polyline points="216.7,522.7 264.8,521.4 312.9,520.4 361,513.7 409.1,505.7 457.2,488.3 505.3,470.8 553.4,456.6 601.5,450.2 649.6,446.2" class="k ks"/>
<polyline points="216.7,527.2 264.8,527.3 312.9,525.6 361,525.6 409.1,522.8 457.2,517.9 505.3,509.4 553.4,498.7 601.5,492.2 649.6,488.5" class="k kc"/>
<polyline points="216.7,525 264.8,522.5 312.9,514.2 361,501 409.1,475.5 457.2,441.7 505.3,402.6 553.4,376.2 601.5,355.9 649.6,346.5" class="k kc"/>
<polyline points="216.7,525.7 264.8,524.3 312.9,519.9 361,512 409.1,501.8 457.2,483.1 505.3,460 553.4,445.4 601.5,434.5 649.6,428.3" class="r rt"/>
<polyline points="216.7,523.8 264.8,523.4 312.9,520.5 361,512.5 409.1,493.8 457.2,456 505.3,413.1 553.4,382.4 601.5,368.2 649.6,361.4" class="k kc"/>
<polyline points="216.7,524.2 264.8,523.6 312.9,522 361,515.1 409.1,505.2 457.2,487.9 505.3,470.4 553.4,458.2 601.5,453 649.6,449.2" class="k kq"/>
<polyline points="216.7,524.8 264.8,522.6 312.9,517.5 361,506.5 409.1,487.5 457.2,463.6 505.3,438.6 553.4,420.4 601.5,413 649.6,405.8" class="r rc"/>
<polyline points="216.7,525.8 264.8,525.6 312.9,524.6 361,524 409.1,521.1 457.2,514.7 505.3,506.4 553.4,499.2 601.5,495.5 649.6,494.2" class="k kd"/>
<polyline points="216.7,525.7 264.8,523.4 312.9,517.5 361,503.9 409.1,482.5 457.2,447.8 505.3,414.5 553.4,384.9 601.5,374.6 649.6,368.2" class="k ks"/>
<polyline points="216.7,520.1 264.8,518.4 312.9,517.2 361,514 409.1,505.4 457.2,492.2 505.3,477.5 553.4,465.6 601.5,457.9 649.6,454.3" class="r rt"/>
<polyline points="216.7,522.9 264.8,521 312.9,517.1 361,506.9 409.1,490.8 457.2,465.2 505.3,434.6 553.4,409.3 601.5,397.2 649.6,386.8" class="r rc"/>
<polyline points="216.7,528.2 264.8,526.3 312.9,522.5 361,514.9 409.1,501.9 457.2,487.5 505.3,470.9 553.4,462.6 601.5,451.9 649.6,452" class="r rc"/>
<polyline points="216.7,525.3 264.8,522.9 312.9,519.4 361,509.2 409.1,486.6 457.2,455.2 505.3,422.6 553.4,404.3 601.5,397 649.6,390.9" class="r rc"/>
<polyline points="216.7,527 264.8,527.5 312.9,524.3 361,521.5 409.1,514.1 457.2,502.7 505.3,489.3 553.4,478 601.5,473.7 649.6,470" class="r rc"/>
<polyline points="216.7,528.7 264.8,526.5 312.9,522.6 361,514.6 409.1,498.2 457.2,473.3 505.3,441 553.4,412.9 601.5,391.8 649.6,382.6" class="r rc"/>
<polyline points="216.7,518.5 264.8,515.9 312.9,510.7 361,503.1 409.1,485.5 457.2,460.1 505.3,425.9 553.4,399.1 601.5,382 649.6,375.7" class="k kc"/>
<polyline points="216.7,522.7 264.8,517.8 312.9,509.5 361,488.5 409.1,459.4 457.2,421.3 505.3,387.8 553.4,363.3 601.5,345.2 649.6,335.7" class="r rd"/>
<polyline points="216.7,519.9 264.8,518.2 312.9,513.1 361,497.2 409.1,468.3 457.2,429.5 505.3,396 553.4,376.4 601.5,367.7 649.6,372.3" class="r rc"/>
<polyline points="216.7,521.4 264.8,519 312.9,515.9 361,505.3 409.1,488.4 457.2,457.5 505.3,420.3 553.4,394.3 601.5,379.5 649.6,370" class="k kd"/>
<polyline points="216.7,522.6 264.8,521.2 312.9,519.2 361,513.8 409.1,501 457.2,480.1 505.3,452.9 553.4,437.6 601.5,427.5 649.6,421.1" class="r rq"/>
<polyline points="216.7,522.8 264.8,520.4 312.9,514.9 361,503.8 409.1,478.2 457.2,438.7 505.3,400 553.4,370 601.5,355.5 649.6,343.4" class="r rc"/>
<polyline points="216.7,521.8 264.8,520.2 312.9,518.4 361,508.8 409.1,488.8 457.2,452.1 505.3,415 553.4,388.7 601.5,371.9 649.6,369.9" class="r rd"/>
<polyline points="216.7,525.9 264.8,524.8 312.9,522.2 361,516.8 409.1,509.3 457.2,496.9 505.3,480.1 553.4,466 601.5,456.5 649.6,450.1" class="k kc"/>
<polyline points="216.7,525.1 264.8,523.3 312.9,515.9 361,502.7 409.1,476.9 457.2,444.5 505.3,415.9 553.4,398 601.5,391.2 649.6,387.3" class="r rt"/>
<polyline points="216.7,525.4 264.8,525.6 312.9,522.6 361,520.9 409.1,515.7 457.2,508.7 505.3,497.3 553.4,486 601.5,480.9 649.6,478" class="k kc"/>
<polyline points="216.7,520.1 264.8,519 312.9,520.2 361,518.2 409.1,514.4 457.2,507.1 505.3,496 553.4,485.4 601.5,482 649.6,480" class="r rt"/>
<polyline points="216.7,522.8 264.8,522.8 312.9,522.6 361,522 409.1,520.3 457.2,517.8 505.3,509.1 553.4,501.1 601.5,495.3 649.6,491.1" class="r rc"/>
<polyline points="216.7,528.7 264.8,526.4 312.9,525.8 361,517 409.1,498.4 457.2,468.4 505.3,426.4 553.4,396 601.5,374.5 649.6,367.6" class="k kq"/>
<polyline points="216.7,520.5 264.8,517.9 312.9,512.1 361,499.7 409.1,475.4 457.2,439 505.3,402.2 553.4,367 601.5,352.5 649.6,343.8" class="k kt"/>
<polyline points="216.7,521.2 264.8,519.6 312.9,517.4 361,510.9 409.1,499.3 457.2,483.9 505.3,465.5 553.4,449.7 601.5,438.8 649.6,432.4" class="r rd"/>
<polyline points="216.7,520.6 264.8,521.1 312.9,516.5 361,509.2 409.1,489.6 457.2,451.1 505.3,404.3 553.4,370.2 601.5,350.2 649.6,344.1" class="k kc"/>
<polyline points="216.7,526.2 264.8,526.8 312.9,525.9 361,524.5 409.1,523.1 457.2,519 505.3,510.5 553.4,501.7 601.5,493.5 649.6,489.8" class="k kc"/>
<polyline points="216.7,522.1 264.8,522 312.9,520.6 361,516.3 409.1,507.7 457.2,491.8 505.3,471.9 553.4,459.8 601.5,449.9 649.6,446" class="k kd"/>
<polyline points="216.7,525.1 264.8,525.7 312.9,526 361,525.5 409.1,523.7 457.2,518.2 505.3,512 553.4,499.3 601.5,491.1 649.6,488.5" class="k kq"/>
<polyline points="216.7,526.9 264.8,526.2 312.9,525.4 361,520.4 409.1,510.4 457.2,491.4 505.3,466.1 553.4,442.9 601.5,428.8 649.6,423" class="r rc"/>
<polyline points="216.7,521.3 264.8,520.9 312.9,518.7 361,512.2 409.1,499.5 457.2,478.1 505.3,453.3 553.4,436.5 601.5,427.5 649.6,423.9" class="k kc"/>
<polyline points="216.7,524.5 264.8,524.1 312.9,523.5 361,524 409.1,522.5 457.2,517 505.3,510.8 553.4,503 601.5,495.1 649.6,493.7" class="k kq"/>
<polyline points="216.7,520.2 264.8,516.4 312.9,512.6 361,497.3 409.1,473 457.2,436.2 505.3,401.3 553.4,367.2 601.5,346.7 649.6,337.5" class="r rc"/>
<polyline points="216.7,525.5 264.8,525.1 312.9,520.3 361,514.5 409.1,503 457.2,489.3 505.3,470.9 553.4,462.2 601.5,455.2 649.6,450.7" class="r rc"/>
<polyline points="216.7,519.1 264.8,518.7 312.9,514.6 361,506.6 409.1,484.9 457.2,446.4 505.3,398.9 553.4,363.4 601.5,347 649.6,341.4" class="k kc"/>
<polyline points="216.7,528.4 264.8,526.1 312.9,521.8 361,510.8 409.1,490.2 457.2,456.7 505.3,418.3 553.4,385.8 601.5,370.7 649.6,363.8" class="k kd"/>
<polyline points="216.7,525.3 264.8,524.5 312.9,522 361,519.5 409.1,511 457.2,493.8 505.3,470.9 553.4,452.2 601.5,436 649.6,429.1" class="r rq"/>
<polyline points="216.7,525.4 264.8,524.2 312.9,519.7 361,512.2 409.1,496 457.2,470.5 505.3,437.9 553.4,411 601.5,389.2 649.6,377.8" class="k kt"/>
<polyline points="216.7,518.2 264.8,517.7 312.9,517.3 361,517.1 409.1,516.4 457.2,512.9 505.3,505.6 553.4,497.2 601.5,489.5 649.6,484.7" class="k kc"/>
<polyline points="216.7,521.5 264.8,518.9 312.9,515.9 361,509.7 409.1,497.4 457.2,477.6 505.3,457 553.4,440.5 601.5,429.6 649.6,425.7" class="r rc"/>
<polyline points="216.7,524.1 264.8,524.9 312.9,523.2 361,521.9 409.1,520.4 457.2,514.7 505.3,505.6 553.4,497.3 601.5,492.5 649.6,488.6" class="k kq"/>
<polyline points="216.7,521.9 264.8,519.7 312.9,518.3 361,511.9 409.1,500.7 457.2,479.7 505.3,461.3 553.4,452.9 601.5,448.6 649.6,446.1" class="r rs"/>
<polyline points="216.7,528.6 264.8,525.9 312.9,519.4 361,505.6 409.1,477.8 457.2,440.3 505.3,406 553.4,376.9 601.5,363.4 649.6,354.7" class="r rc"/>
<polyline points="216.7,528.8 264.8,527.2 312.9,523.7 361,515.2 409.1,503.1 457.2,482.9 505.3,464.3 553.4,453.5 601.5,448.5 649.6,445.4" class="r rc"/>
<polyline points="216.7,524.2 264.8,523.4 312.9,518.1 361,510.6 409.1,493.5 457.2,464.1 505.3,433.5 553.4,411.9 601.5,397.3 649.6,390.4" class="r rc"/>
<polyline points="216.7,527.6 264.8,526.2 312.9,527.5 361,523.8 409.1,519.5 457.2,507.6 505.3,493.4 553.4,481.9 601.5,474.7 649.6,472.3" class="r rc"/>
<polyline points="216.7,527.4 264.8,525.6 312.9,523.4 361,512.8 409.1,495.9 457.2,471.5 505.3,447.8 553.4,429.4 601.5,421.5 649.6,416.2" class="k ks"/>
<polyline points="216.7,521.3 264.8,519.6 312.9,516.1 361,508.6 409.1,497.7 457.2,481.4 505.3,466.1 553.4,455.9 601.5,447.6 649.6,443.9" class="k kd"/>
<polyline points="216.7,527.7 264.8,527.8 312.9,526.4 361,524.1 409.1,518.8 457.2,508.6 505.3,497.7 553.4,491.2 601.5,488 649.6,486.4" class="r rc"/>
<polyline points="216.7,517.9 264.8,515.3 312.9,514.2 361,507.7 409.1,492.7 457.2,468.9 505.3,437.6 553.4,410.4 601.5,394.9 649.6,386.5" class="k kc"/>
<polyline points="216.7,519.1 264.8,519.1 312.9,518.4 361,516.3 409.1,513.3 457.2,506.4 505.3,497.4 553.4,487.9 601.5,484.1 649.6,480.1" class="k kc"/>
<polyline points="216.7,526 264.8,525.3 312.9,522.2 361,515.3 409.1,497.6 457.2,470.7 505.3,442.6 553.4,426.4 601.5,417.1 649.6,414.5" class="r rq"/>
<polyline points="216.7,517.2 264.8,517.2 312.9,516 361,510 409.1,499.1 457.2,480.9 505.3,459 553.4,442.5 601.5,431.9 649.6,428.8" class="k kc"/>
<polyline points="216.7,526.8 264.8,525.3 312.9,521.7 361,509.3 409.1,492.3 457.2,468.3 505.3,439.4 553.4,419.4 601.5,404.9 649.6,399.3" class="r rt"/>
<polyline points="216.7,522.9 264.8,521.7 312.9,517.7 361,507.6 409.1,486.3 457.2,456.1 505.3,423.7 553.4,394.3 601.5,378.1 649.6,374" class="k kc"/>
<polyline points="216.7,521.9 264.8,519.3 312.9,512.6 361,499.5 409.1,474 457.2,437.8 505.3,395.7 553.4,362.1 601.5,337.4 649.6,327.6" class="k kc"/>
<polyline points="216.7,523.4 264.8,523.8 312.9,520.9 361,516.1 409.1,502.7 457.2,483 505.3,464.2 553.4,452.4 601.5,445.3 649.6,443.6" class="r rc"/>
<polyline points="216.7,524 264.8,524.2 312.9,524.5 361,523.2 409.1,520.4 457.2,518.3 505.3,511 553.4,502.9 601.5,497 649.6,492.4" class="k kd"/>
<polyline points="216.7,519.7 264.8,518.3 312.9,514.6 361,505.7 409.1,484.3 457.2,448.9 505.3,406.8 553.4,371.9 601.5,357.5 649.6,346.4" class="k kq"/>
<polyline points="216.7,528.2 264.8,528.2 312.9,524 361,518.6 409.1,508.7 457.2,490 505.3,468.8 553.4,452.1 601.5,440.5 649.6,435" class="r rq"/>
<polyline points="216.7,520.9 264.8,519.9 312.9,516.3 361,509.8 409.1,496.9 457.2,477.1 505.3,457.3 553.4,439.4 601.5,430.5 649.6,424.9" class="r rq"/>
<polyline points="216.7,522.8 264.8,521.8 312.9,518.9 361,513.8 409.1,498.3 457.2,468.7 505.3,432.9 553.4,402.2 601.5,381.2 649.6,378.4" class="r rq"/>
<polyline points="216.7,525.1 264.8,523.8 312.9,521.7 361,514.3 409.1,499.9 457.2,476.9 505.3,455.3 553.4,440.9 601.5,433.4 649.6,431.4" class="r rs"/>
<polyline points="216.7,526.4 264.8,523.4 312.9,516.2 361,505.1 409.1,481.2 457.2,450.3 505.3,418.7 553.4,391.1 601.5,379.4 649.6,371.8" class="k kc"/>
<polyline points="216.7,520.6 264.8,518.4 312.9,512.4 361,502.5 409.1,483.6 457.2,459.4 505.3,434.6 553.4,414.1 601.5,401.4 649.6,394.2" class="r rc"/>
<polyline points="216.7,528.7 264.8,527.5 312.9,525.4 361,521.1 409.1,512.6 457.2,499.3 505.3,485.5 553.4,475.5 601.5,470.1 649.6,465.9" class="r rq"/>
<polyline points="216.7,527.6 264.8,525.7 312.9,518.4 361,502.3 409.1,476 457.2,436 505.3,396 553.4,364.8 601.5,354.9 649.6,346.5" class="k kc"/>
<polyline points="216.7,523.8 264.8,522 312.9,517.5 361,512.1 409.1,500.2 457.2,483.2 505.3,463.8 553.4,452.8 601.5,445 649.6,440.9" class="r rc"/>
<polyline points="216.7,524.6 264.8,524.8 312.9,525.5 361,523.8 409.1,521.9 457.2,520.1 505.3,514.4 553.4,503.1 601.5,496.4 649.6,490" class="k kt"/>
<polyline points="216.7,518.3 264.8,514.2 312.9,505.2 361,488.7 409.1,462 457.2,427.8 505.3,389.5 553.4,366.6 601.5,350.3 649.6,339.9" class="k kd"/>
<polyline points="216.7,522.1 264.8,520.7 312.9,518.8 361,508.5 409.1,489.2 457.2,459.3 505.3,432.7 553.4,415.7 601.5,404.8 649.6,404.4" class="r rq"/>
<polyline points="216.7,527.9 264.8,525.7 312.9,520.9 361,508.1 409.1,487.6 457.2,453.9 505.3,412.3 553.4,379.8 601.5,364.8 649.6,355.8" class="k kc"/>
<polyline points="216.7,528.6 264.8,528.1 312.9,528 361,527.9 409.1,522.8 457.2,514.8 505.3,504.4 553.4,496.1 601.5,493.4 649.6,491.9" class="k ks"/>
<polyline points="216.7,522.4 264.8,518.9 312.9,511.7 361,498.6 409.1,474.9 457.2,439.2 505.3,396.2 553.4,357.7 601.5,328.8 649.6,320.6" class="r rc"/>
<polyline points="216.7,521.2 264.8,518.7 312.9,514.7 361,506.7 409.1,488.9 457.2,461.2 505.3,428.4 553.4,405.1 601.5,391.2 649.6,385.1" class="k ks"/>
<polyline points="216.7,522.6 264.8,520.9 312.9,516.2 361,507.5 409.1,489.8 457.2,464.9 505.3,436.3 553.4,411 601.5,392.8 649.6,386.4" class="r rq"/>
<polyline points="216.7,525.2 264.8,522.8 312.9,523.6 361,520 409.1,513.3 457.2,504.5 505.3,493.1 553.4,481.5 601.5,473.1 649.6,468.6" class="k kc"/>
<polyline points="216.7,524.1 264.8,523.7 312.9,523 361,518.6 409.1,507.6 457.2,486.5 505.3,455.3 553.4,424.6 601.5,408.1 649.6,398.2" class="r rc"/>
<polyline points="216.7,520.1 264.8,519.4 312.9,517.6 361,513.5 409.1,505.3 457.2,487.9 505.3,468.3 553.4,450.8 601.5,438.7 649.6,435.4" class="r rc"/>
<polyline points="216.7,521.8 264.8,519.6 312.9,517.9 361,515.3 409.1,507.1 457.2,497.7 505.3,487.8 553.4,478.7 601.5,475.8 649.6,471.6" class="r rt"/>
<polyline points="216.7,520.5 264.8,517.6 312.9,511.7 361,497.9 409.1,474.5 457.2,444.3 505.3,418.4 553.4,396.6 601.5,387.3 649.6,379.6" class="r rd"/>
<polyline points="216.7,520.8 264.8,520.2 312.9,519.8 361,515.6 409.1,511.7 457.2,502.6 505.3,492.5 553.4,483.8 601.5,480 649.6,478.4" class="r rc"/>
<polyline points="216.7,522.4 264.8,520.3 312.9,516.8 361,508.9 409.1,492.8 457.2,470.2 505.3,446.6 553.4,424.4 601.5,408.9 649.6,404.6" class="r rq"/>
<polyline points="216.7,525.4 264.8,524.7 312.9,521.3 361,514.3 409.1,499.8 457.2,482.6 505.3,466.2 553.4,453.5 601.5,449.6 649.6,447.2" class="r rc"/>
<polyline points="216.7,518.2 264.8,516.7 312.9,511 361,503.1 409.1,485.1 457.2,457.1 505.3,418.9 553.4,382.7 601.5,360.1 649.6,344.8" class="k kc"/>
<polyline points="216.7,521.6 264.8,519.5 312.9,516.5 361,505.7 409.1,491.8 457.2,472.1 505.3,460.2 553.4,453.9 601.5,448.8 649.6,448.7" class="r rd"/>
<polyline points="216.7,518.6 264.8,516 312.9,512.4 361,501.3 409.1,484.3 457.2,460 505.3,435 553.4,416.2 601.5,404.2 649.6,399.1" class="k ks"/>
<polyline points="216.7,528.4 264.8,525.5 312.9,522.5 361,512.5 409.1,497.7 457.2,482.6 505.3,466.6 553.4,455.8 601.5,448.6 649.6,446" class="r rd"/>
<polyline points="216.7,523.7 264.8,523.5 312.9,520.5 361,518.6 409.1,509.2 457.2,494.3 505.3,473.6 553.4,452.8 601.5,437.5 649.6,432.3" class="r rt"/>
<polyline points="216.7,524.5 264.8,520.7 312.9,515 361,501.8 409.1,479 457.2,444.1 505.3,405 553.4,373.2 601.5,350.2 649.6,337.8" class="k kc"/>
<polyline points="216.7,528.5 264.8,528.8 312.9,528.9 361,527.7 409.1,524.8 457.2,521 505.3,509.8 553.4,497.4 601.5,486.8 649.6,481.7" class="k kc"/>
<polyline points="216.7,527.5 264.8,527.1 312.9,524.5 361,521.1 409.1,513.2 457.2,499.9 505.3,483.9 553.4,471.1 601.5,464 649.6,460.5" class="k kq"/>
<polyline points="216.7,520.1 264.8,514.5 312.9,508.2 361,493.1 409.1,469 457.2,434.7 505.3,404.5 553.4,383.4 601.5,367.6 649.6,358.6" class="r rt"/>
<polyline points="216.7,521.9 264.8,517 312.9,504.4 361,482.5 409.1,447.6 457.2,411.3 505.3,375.7 553.4,355.2 601.5,344.8 649.6,339.7" class="k kt"/>
<polyline points="216.7,523.2 264.8,519.4 312.9,511.4 361,496.2 409.1,470.3 457.2,433.8 505.3,393 553.4,369.3 601.5,358 649.6,347" class="k ks"/>
<polyline points="216.7,527 264.8,526.9 312.9,525.6 361,522.7 409.1,514.9 457.2,500.3 505.3,479.7 553.4,464.9 601.5,455.7 649.6,453.8" class="r rq"/>
<polyline points="216.7,519 264.8,517.6 312.9,516.1 361,506.8 409.1,492.9 457.2,468.2 505.3,436.4 553.4,411.4 601.5,394.9 649.6,385.2" class="k kc"/>
<polyline points="216.7,528.1 264.8,526.2 312.9,524.8 361,517.2 409.1,509.5 457.2,496.3 505.3,480.1 553.4,469.6 601.5,462.7 649.6,458.9" class="r rq"/>
<polyline points="216.7,520.9 264.8,519.9 312.9,520 361,518.1 409.1,515.8 457.2,510.5 505.3,504.9 553.4,499 601.5,496.2 649.6,494" class="r rc"/>
<polyline points="216.7,518.7 264.8,518 312.9,516 361,513.3 409.1,508.2 457.2,500.6 505.3,490.5 553.4,482.6 601.5,477.9 649.6,475.4" class="k ks"/>
<polyline points="216.7,523.1 264.8,522.5 312.9,522.8 361,520.3 409.1,517.7 457.2,512.6 505.3,504.9 553.4,496.5 601.5,491.9 649.6,491.2" class="k kc"/>
<polyline points="216.7,527.9 264.8,525.2 312.9,523.1 361,518.4 409.1,507.7 457.2,495.6 505.3,479.3 553.4,468.4 601.5,461.6 649.6,457.1" class="r rc"/>
<polyline points="216.7,527.7 264.8,527.6 312.9,526.5 361,522.1 409.1,515.2 457.2,500.6 505.3,487.6 553.4,475.8 601.5,471 649.6,469.4" class="r rq"/>
<polyline points="216.7,520.9 264.8,521.3 312.9,520.9 361,520.3 409.1,516.8 457.2,511.5 505.3,503.4 553.4,495.7 601.5,488.5 649.6,485.8" class="k kt"/>
<polyline points="216.7,523.6 264.8,523.9 312.9,524.2 361,523 409.1,520.4 457.2,515.8 505.3,507.7 553.4,498.1 601.5,490.5 649.6,486" class="k kq"/>
<polyline points="216.7,519.9 264.8,517.1 312.9,508.9 361,491.3 409.1,456.1 457.2,405.1 505.3,354.8 553.4,328.4 601.5,306.3 649.6,306.2" class="k kd"/>
<polyline points="216.7,527.6 264.8,527.2 312.9,525.8 361,525.5 409.1,524.4 457.2,518 505.3,511.2 553.4,504.1 601.5,500 649.6,497.2" class="k ks"/>
<polyline points="216.7,527.9 264.8,524.3 312.9,515.8 361,500 409.1,471.8 457.2,433.1 505.3,392.1 553.4,357.3 601.5,340 649.6,321.3" class="r rc"/>
<polyline points="216.7,523.1 264.8,521.5 312.9,517.9 361,512.4 409.1,502 457.2,488 505.3,474.6 553.4,465.2 601.5,460 649.6,457.1" class="r rd"/>
<polyline points="216.7,522.2 264.8,522 312.9,522.5 361,520.5 409.1,519.7 457.2,515.5 505.3,506.7 553.4,495.9 601.5,490.8 649.6,486.8" class="r rc"/>
<polyline points="216.7,524.9 264.8,524.8 312.9,522.7 361,516.7 409.1,502.3 457.2,473.7 505.3,435.9 553.4,406.3 601.5,390.1 649.6,380.5" class="k kt"/>
<polyline points="216.7,519.2 264.8,517.3 312.9,513.4 361,505.2 409.1,488.3 457.2,461.8 505.3,430.9 553.4,400.4 601.5,390.4 649.6,378.6" class="k kd"/>
<polyline points="216.7,524.1 264.8,523.4 312.9,518.2 361,511.9 409.1,494.9 457.2,468.5 505.3,443.4 553.4,419.4 601.5,405.5 649.6,397.3" class="r rc"/>
<polyline points="216.7,517.1 264.8,515.2 312.9,508.8 361,499.3 409.1,479.9 457.2,450.3 505.3,409.2 553.4,375 601.5,346.2 649.6,334.6" class="k kd"/>
<polyline points="216.7,520.2 264.8,518.8 312.9,514.8 361,507.3 409.1,493.9 457.2,473.8 505.3,453.6 553.4,439.3 601.5,432.4 649.6,430.7" class="k kd"/>
<polyline points="216.7,520.8 264.8,520.2 312.9,520.4 361,517.8 409.1,515 457.2,509.5 505.3,499.4 553.4,488.5 601.5,480.6 649.6,475.1" class="k kq"/>
<polyline points="216.7,526.3 264.8,525.1 312.9,521.7 361,512.8 409.1,497.4 457.2,474.8 505.3,450.2 553.4,430.5 601.5,421 649.6,413" class="r rc"/>
<polyline points="216.7,520 264.8,518.2 312.9,514.9 361,505.2 409.1,481.6 457.2,447.2 505.3,410.2 553.4,385.2 601.5,378.2 649.6,373.1" class="r rq"/>
<polyline points="216.7,522.1 264.8,521.3 312.9,514.7 361,505.4 409.1,485.3 457.2,448.1 505.3,405.5 553.4,373.8 601.5,347.3 649.6,344.3" class="k kc"/>
<polyline points="216.7,522.2 264.8,520 312.9,514.4 361,503.8 409.1,486.6 457.2,464.7 505.3,444.3 553.4,430.8 601.5,425.3 649.6,421.8" class="r rc"/>
<polyline points="216.7,528.3 264.8,527.2 312.9,521.7 361,511.7 409.1,493.2 457.2,465.6 505.3,430.7 553.4,396.2 601.5,378.6 649.6,363.5" class="r rq"/>
<polyline points="216.7,525.4 264.8,521.6 312.9,514.5 361,498 409.1,467.8 457.2,426.5 505.3,385.1 553.4,361.5 601.5,350.5 649.6,343.5" class="k ks"/>
<polyline points="216.7,523.7 264.8,519.8 312.9,510.9 361,495.3 409.1,470.2 457.2,442.1 505.3,421.9 553.4,403.8 601.5,401.4 649.6,396.1" class="r rq"/>
<polyline points="216.7,526.4 264.8,524.7 312.9,522.6 361,512.4 409.1,495.3 457.2,459.8 505.3,415.2 553.4,388 601.5,375.1 649.6,362.9" class="r rc"/>
<polyline points="216.7,526.3 264.8,525.8 312.9,525.6 361,523.9 409.1,521.8 457.2,518.6 505.3,511.5 553.4,506 601.5,497.8 649.6,495.3" class="k ks"/>
<polyline points="216.7,524.3 264.8,523.1 312.9,522.9 361,520.8 409.1,516.9 457.2,509.4 505.3,501.2 553.4,492.2 601.5,487.4 649.6,485.7" class="k ks"/>
<polyline points="216.7,526.4 264.8,527.9 312.9,527.3 361,526.2 409.1,524.7 457.2,522.1 505.3,517.2 553.4,507.8 601.5,499.9 649.6,496.5" class="k kc"/>
<polyline points="216.7,526.5 264.8,524.4 312.9,519.4 361,507.9 409.1,486.9 457.2,457.6 505.3,431.2 553.4,413 601.5,406.7 649.6,403.8" class="r rd"/>
<polyline points="216.7,522 264.8,522.4 312.9,520.2 361,520.3 409.1,516.3 457.2,507.6 505.3,499.1 553.4,491.5 601.5,487.8 649.6,486.2" class="k kd"/>
<polyline points="216.7,525.9 264.8,523.9 312.9,515.9 361,500.4 409.1,473.6 457.2,433.9 505.3,395.4 553.4,370.4 601.5,358.2 649.6,349.1" class="k kd"/>
<polyline points="216.7,522.3 264.8,519 312.9,513 361,496.1 409.1,465.1 457.2,420.2 505.3,374.7 553.4,343.5 601.5,326 649.6,316" class="r rq"/>
<polyline points="216.7,525.3 264.8,523.1 312.9,515.4 361,498.2 409.1,466.9 457.2,429.1 505.3,403.2 553.4,390.2 601.5,388 649.6,384.7" class="r rd"/>
<polyline points="216.7,523.3 264.8,520.2 312.9,511.8 361,495.6 409.1,469.6 457.2,438 505.3,403.7 553.4,377.4 601.5,369.6 649.6,361.8" class="r rc"/>
<polyline points="216.7,524.7 264.8,522.5 312.9,521.1 361,517.8 409.1,509.7 457.2,499.1 505.3,486.5 553.4,475.4 601.5,469 649.6,464.8" class="k kq"/>
<polyline points="216.7,518.5 264.8,518.9 312.9,514.9 361,507.9 409.1,494.1 457.2,470.2 505.3,443.1 553.4,424.5 601.5,416 649.6,412.4" class="k kt"/>
<polyline points="216.7,524.2 264.8,522.5 312.9,520.5 361,514.6 409.1,504.5 457.2,488.2 505.3,471.4 553.4,454.8 601.5,443.1 649.6,438.3" class="k ks"/>
<polyline points="216.7,518.2 264.8,516.3 312.9,512.2 361,500.9 409.1,474.3 457.2,433.5 505.3,385.7 553.4,353.7 601.5,333.9 649.6,326.7" class="k kt"/>
<polyline points="216.7,527.5 264.8,527.4 312.9,526.2 361,520 409.1,508.1 457.2,482.3 505.3,444.6 553.4,409.4 601.5,390.6 649.6,380.2" class="k kc"/>
<polyline points="216.7,523.8 264.8,524.2 312.9,523.3 361,524.1 409.1,521.9 457.2,516.1 505.3,511.4 553.4,503.8 601.5,500 649.6,498.7" class="k kc"/>
<polyline points="216.7,527.5 264.8,527.3 312.9,522.7 361,512.9 409.1,490.3 457.2,448.6 505.3,403.9 553.4,372.8 601.5,361.6 649.6,353.1" class="k kc"/>
<polyline points="216.7,526.3 264.8,523.9 312.9,524.4 361,515.6 409.1,497 457.2,466.6 505.3,433.2 553.4,409 601.5,397 649.6,392.3" class="k kq"/>
<polyline points="216.7,521.5 264.8,516.5 312.9,509.1 361,496.7 409.1,473.9 457.2,449.1 505.3,427.4 553.4,411 601.5,401.9 649.6,399.4" class="r rd"/>
<polyline points="216.7,521.3 264.8,520 312.9,517.2 361,516.4 409.1,506.6 457.2,499 505.3,487.2 553.4,480.3 601.5,475.5 649.6,474.2" class="r rd"/>
<polyline points="216.7,526 264.8,522.3 312.9,518.1 361,509 409.1,491.7 457.2,469.4 505.3,450.2 553.4,441.7 601.5,436.9 649.6,430.5" class="r rd"/>
<polyline points="216.7,525.3 264.8,524.8 312.9,521.5 361,512.8 409.1,491.7 457.2,455.9 505.3,408.5 553.4,375.4 601.5,356 649.6,353.8" class="k ks"/>
<polyline points="216.7,522.9 264.8,523.6 312.9,523.1 361,523.8 409.1,520.3 457.2,520 505.3,513.1 553.4,506.6 601.5,499.1 649.6,493.4" class="k kc"/>
<polyline points="216.7,527.2 264.8,526.1 312.9,523.2 361,516.2 409.1,502.1 457.2,474.7 505.3,436.3 553.4,399.5 601.5,375.4 649.6,371.2" class="r rc"/>
<polyline points="216.7,527.2 264.8,525 312.9,517.9 361,509.4 409.1,486.4 457.2,452.5 505.3,410 553.4,371.5 601.5,347.3 649.6,333.9" class="k kc"/>
<polyline points="216.7,527.2 264.8,524.9 312.9,520.6 361,511 409.1,486.4 457.2,446 505.3,408.7 553.4,388.3 601.5,376.7 649.6,373.4" class="r rs"/>
<polyline points="216.7,520.5 264.8,517.1 312.9,510.8 361,498.8 409.1,479 457.2,451 505.3,421.4 553.4,399 601.5,388.1 649.6,381.1" class="r rt"/>
<polyline points="216.7,523.1 264.8,519.8 312.9,511 361,493.2 409.1,468.2 457.2,435.1 505.3,405.8 553.4,382.4 601.5,370.7 649.6,364.3" class="r rd"/>
<polyline points="216.7,527.1 264.8,524.1 312.9,518.2 361,507.2 409.1,486.9 457.2,460 505.3,430.8 553.4,410.7 601.5,399.4 649.6,392.9" class="r rt"/>
<polyline points="216.7,528.3 264.8,528 312.9,524.6 361,517.8 409.1,500.8 457.2,469.1 505.3,427.7 553.4,393.3 601.5,369.9 649.6,356.8" class="k kq"/>
<polyline points="216.7,526 264.8,525.5 312.9,524.2 361,518.4 409.1,507.6 457.2,492.2 505.3,468.4 553.4,449.8 601.5,440.7 649.6,435.7" class="r rc"/>
<polyline points="216.7,524 264.8,522.5 312.9,518.7 361,511.6 409.1,496.1 457.2,472.6 505.3,449.7 553.4,435.1 601.5,423 649.6,421.7" class="r rs"/>
<polyline points="216.7,522 264.8,521.1 312.9,518.5 361,512.6 409.1,496.6 457.2,462.8 505.3,411.6 553.4,366 601.5,339.3 649.6,330" class="k kc"/>
<polyline points="216.7,519.2 264.8,516.7 312.9,508.6 361,495.1 409.1,471 457.2,435.7 505.3,397.5 553.4,367.1 601.5,347 649.6,339.1" class="k kq"/>
<polyline points="216.7,524.7 264.8,523.1 312.9,522.2 361,518.2 409.1,503.5 457.2,475.9 505.3,432.9 553.4,399.7 601.5,378.9 649.6,370.2" class="r rq"/>
<polyline points="216.7,523 264.8,519.4 312.9,511.5 361,495.9 409.1,471.9 457.2,438.2 505.3,406.9 553.4,380.5 601.5,368.6 649.6,364.2" class="k kq"/>
<polyline points="216.7,518.2 264.8,516.5 312.9,510.9 361,500.8 409.1,486.8 457.2,462.3 505.3,438.4 553.4,418.6 601.5,409.4 649.6,402.4" class="k kc"/>
<polyline points="216.7,520.8 264.8,521.5 312.9,520.7 361,518.8 409.1,515.7 457.2,511 505.3,500.3 553.4,492.9 601.5,488.9 649.6,487.1" class="r rd"/>
<polyline points="216.7,527.7 264.8,527.9 312.9,526.6 361,525.9 409.1,522.5 457.2,518.1 505.3,509.5 553.4,497.9 601.5,491.9 649.6,490.9" class="r rd"/>
<polyline points="216.7,524.8 264.8,520.9 312.9,516.5 361,508.3 409.1,490 457.2,466.8 505.3,438 553.4,415.4 601.5,398.1 649.6,388.7" class="r rd"/>
<polyline points="216.7,524.8 264.8,522.8 312.9,521.7 361,514.3 409.1,501.7 457.2,478.1 505.3,444 553.4,413 601.5,388 649.6,377.6" class="k kd"/>
<polyline points="216.7,521.3 264.8,519.9 312.9,518.9 361,518.2 409.1,511.2 457.2,503.5 505.3,491.2 553.4,478.9 601.5,470.1 649.6,466.1" class="k kc"/>
<polyline points="216.7,521.6 264.8,520.1 312.9,519.3 361,513.2 409.1,500.5 457.2,475.9 505.3,441.9 553.4,407.1 601.5,386.3 649.6,375.6" class="k kt"/>
<polyline points="216.7,528 264.8,526.5 312.9,521.4 361,512.6 409.1,490.9 457.2,460.8 505.3,432.9 553.4,418.7 601.5,411.9 649.6,407.5" class="r rq"/>
<polyline points="216.7,526.6 264.8,525.7 312.9,520.6 361,510.5 409.1,495.5 457.2,475.2 505.3,453 553.4,435 601.5,423.8 649.6,418.1" class="r rq"/>
<polyline points="216.7,517.1 264.8,516.5 312.9,511.5 361,500.7 409.1,481.8 457.2,449.5 505.3,419.7 553.4,400.4 601.5,391.2 649.6,382.8" class="k ks"/>
<polyline points="216.7,525.3 264.8,525.4 312.9,525.1 361,523.1 409.1,521.1 457.2,514.7 505.3,507 553.4,495.6 601.5,489.4 649.6,487.2" class="r rt"/>
<polyline points="216.7,520.9 264.8,518.3 312.9,511.6 361,500 409.1,478.8 457.2,448.5 505.3,412.7 553.4,389.6 601.5,372.3 649.6,366.3" class="r rc"/>
<polyline points="216.7,519.7 264.8,518.7 312.9,512.9 361,502.2 409.1,481.6 457.2,443.6 505.3,402.9 553.4,370.7 601.5,357.1 649.6,351.5" class="k kt"/>
<polyline points="216.7,520.5 264.8,520.3 312.9,519.2 361,515.1 409.1,507.5 457.2,495.5 505.3,478 553.4,467.7 601.5,462.9 649.6,460.7" class="k kd"/>
<polyline points="216.7,525.3 264.8,525.3 312.9,522.2 361,517.4 409.1,507.9 457.2,497.2 505.3,485.6 553.4,480.3 601.5,474.9 649.6,471.2" class="k kc"/>
<polyline points="216.7,526.1 264.8,523.1 312.9,519.4 361,509.1 409.1,487.8 457.2,454.7 505.3,419.5 553.4,398.2 601.5,386.8 649.6,377.7" class="r rd"/>
<polyline points="216.7,520.9 264.8,520.5 312.9,519 361,518.4 409.1,513.7 457.2,506.8 505.3,499.3 553.4,493.2 601.5,491 649.6,488.6" class="r rc"/>
<polyline points="216.7,524.7 264.8,520 312.9,516 361,501.3 409.1,482.5 457.2,453.6 505.3,425.6 553.4,403.5 601.5,387.4 649.6,380.1" class="r rc"/>
<polyline points="216.7,525.8 264.8,523.9 312.9,521.2 361,514 409.1,503.3 457.2,485.7 505.3,466.5 553.4,452.6 601.5,444.9 649.6,440.9" class="r rc"/>
<polyline points="216.7,518.2 264.8,518.2 312.9,517.2 361,515.9 409.1,514.1 457.2,508.7 505.3,500.7 553.4,491.2 601.5,482.7 649.6,476.7" class="k kc"/>
<polyline points="216.7,525 264.8,525.7 312.9,523.3 361,523.5 409.1,521.6 457.2,513.5 505.3,506.1 553.4,500 601.5,492.6 649.6,489.7" class="r rd"/>
<polyline points="216.7,521.6 264.8,519.1 312.9,512.5 361,499.1 409.1,480.3 457.2,451.6 505.3,423.9 553.4,401.4 601.5,388.9 649.6,381.2" class="k kt"/>
<polyline points="216.7,525.2 264.8,526.3 312.9,525.4 361,524.7 409.1,520.1 457.2,509.6 505.3,498.8 553.4,487 601.5,483.1 649.6,479.9" class="k kc"/>
<polyline points="216.7,519.1 264.8,519.2 312.9,515.7 361,506.2 409.1,495.5 457.2,474.5 505.3,453.1 553.4,439.5 601.5,428.1 649.6,423.4" class="k kq"/>
<polyline points="216.7,520.7 264.8,519.8 312.9,515.9 361,506.8 409.1,490.2 457.2,463.5 505.3,431.2 553.4,408.5 601.5,394.3 649.6,387.4" class="r rd"/>
<polyline points="216.7,525 264.8,522.8 312.9,519.5 361,511 409.1,494.7 457.2,472 505.3,449 553.4,431 601.5,423.2 649.6,418.3" class="k kc"/>
<polyline points="216.7,527.8 264.8,527.9 312.9,524.3 361,517.6 409.1,505.6 457.2,482.4 505.3,447.9 553.4,419.5 601.5,400.7 649.6,389.3" class="k kc"/>
<polyline points="216.7,521.5 264.8,518.9 312.9,514.7 361,504.1 409.1,486.7 457.2,458.9 505.3,427.9 553.4,403.2 601.5,384.1 649.6,374.3" class="k kt"/>
<polyline points="216.7,518.9 264.8,516.8 312.9,511.8 361,502.1 409.1,486.5 457.2,464.5 505.3,440.6 553.4,422.6 601.5,411.4 649.6,404.6" class="k kq"/>
<polyline points="216.7,528.2 264.8,527.3 312.9,524.2 361,519.5 409.1,504 457.2,476.1 505.3,436.9 553.4,403.3 601.5,384 649.6,379.4" class="k kd"/>
<polyline points="216.7,523.4 264.8,523 312.9,520.1 361,512.6 409.1,493.6 457.2,458.2 505.3,413 553.4,381.2 601.5,362.5 649.6,358.8" class="k kt"/>
<polyline points="216.7,524.6 264.8,521.7 312.9,515.9 361,507.1 409.1,487.5 457.2,461.2 505.3,432.6 553.4,412.9 601.5,393.6 649.6,389.4" class="r rc"/>
<polyline points="216.7,517.3 264.8,517.1 312.9,513 361,509.5 409.1,501.3 457.2,484 505.3,466.3 553.4,449.8 601.5,444.4 649.6,441.9" class="k kc"/>
<polyline points="216.7,518.2 264.8,517.2 312.9,514 361,510.8 409.1,501.8 457.2,486.6 505.3,465.2 553.4,445.4 601.5,432.1 649.6,423.9" class="k kc"/>
<polyline points="216.7,525.8 264.8,523.8 312.9,520.1 361,512.5 409.1,491.8 457.2,456.8 505.3,407 553.4,369.6 601.5,343.2 649.6,333.1" class="r rc"/>
<polyline points="216.7,524.9 264.8,521.9 312.9,517.2 361,504.5 409.1,480.7 457.2,444.8 505.3,404.3 553.4,367.4 601.5,350.5 649.6,343.1" class="k ks"/>
<polyline points="216.7,520.6 264.8,520.4 312.9,516.3 361,510.6 409.1,489.7 457.2,454.1 505.3,412 553.4,381.6 601.5,368.1 649.6,361.6" class="k kd"/>
<polyline points="216.7,526.6 264.8,525.4 312.9,522.6 361,517.3 409.1,506.2 457.2,486.5 505.3,463.3 553.4,441.7 601.5,428.8 649.6,422.8" class="k kc"/>
<polyline points="216.7,526.4 264.8,524.9 312.9,526.8 361,524.5 409.1,520.8 457.2,514.4 505.3,503.5 553.4,494.1 601.5,483.2 649.6,476.9" class="k kc"/>
<polyline points="216.7,526.4 264.8,524.8 312.9,519.2 361,509.5 409.1,491 457.2,469.2 505.3,449.7 553.4,432.6 601.5,423 649.6,420.5" class="r rc"/>
<polyline points="216.7,523.4 264.8,521.4 312.9,516.7 361,504.7 409.1,488 457.2,462.4 505.3,436.5 553.4,417.2 601.5,404.7 649.6,396.4" class="r rc"/>
<polyline points="216.7,520.4 264.8,518.2 312.9,511.2 361,498.3 409.1,474.8 457.2,443.8 505.3,416.5 553.4,396.3 601.5,387.8 649.6,377.7" class="k kc"/>
<polyline points="216.7,520 264.8,517.7 312.9,511 361,502.2 409.1,484.7 457.2,465 505.3,446.2 553.4,431.6 601.5,422.7 649.6,418.6" class="r rs"/>
<polyline points="216.7,524.5 264.8,521.2 312.9,510.8 361,488.9 409.1,445.5 457.2,396.5 505.3,363.1 553.4,346.5 601.5,342.3 649.6,342.1" class="r rq"/>
<polyline points="216.7,528.8 264.8,527.6 312.9,522.4 361,508.1 409.1,483.3 457.2,441.9 505.3,402.8 553.4,378.5 601.5,364.1 649.6,356" class="k kc"/>
<polyline points="216.7,522.3 264.8,522.2 312.9,517.4 361,508.2 409.1,492.2 457.2,463.2 505.3,427.5 553.4,400 601.5,380.4 649.6,374.7" class="r rt"/>
<polyline points="216.7,524.5 264.8,521.5 312.9,516.3 361,504.5 409.1,481.2 457.2,442.5 505.3,393.9 553.4,348.3 601.5,317.6 649.6,302.6" class="k kc"/>
<polyline points="216.7,528.7 264.8,529 312.9,526.4 361,521 409.1,508.7 457.2,480.6 505.3,433.7 553.4,395.8 601.5,372.4 649.6,359" class="k kc"/>
<polyline points="216.7,522.1 264.8,519.4 312.9,518 361,507.3 409.1,486.2 457.2,452.2 505.3,412.9 553.4,383.3 601.5,368.3 649.6,358.4" class="k kc"/>
<polyline points="216.7,522 264.8,520.2 312.9,516.8 361,511.2 409.1,496.8 457.2,479.4 505.3,458.5 553.4,445.4 601.5,437.5 649.6,428.9" class="r rd"/>
<polyline points="216.7,527.5 264.8,526.8 312.9,528.4 361,525.5 409.1,523.3 457.2,518.6 505.3,507.8 553.4,498.6 601.5,490.6 649.6,487.1" class="k kc"/>
<polyline points="216.7,523.1 264.8,522.9 312.9,518.8 361,512.2 409.1,494.3 457.2,459.7 505.3,418.5 553.4,381.6 601.5,372 649.6,360.7" class="k kc"/>
<polyline points="216.7,524.4 264.8,524.3 312.9,524.6 361,522.1 409.1,519.3 457.2,512.5 505.3,503.9 553.4,492.9 601.5,485 649.6,480.2" class="r rd"/>
<polyline points="216.7,527.8 264.8,527.2 312.9,521 361,512.8 409.1,491.3 457.2,457.4 505.3,414 553.4,371.5 601.5,346.1 649.6,331.2" class="k kc"/>
<polyline points="216.7,522 264.8,519.8 312.9,514.9 361,503.5 409.1,484.3 457.2,449.6 505.3,410.8 553.4,372.2 601.5,353.1 649.6,343.8" class="k kc"/>
<polyline points="216.7,528.5 264.8,526.3 312.9,515.8 361,499.1 409.1,466.1 457.2,418.4 505.3,372.8 553.4,344.9 601.5,322.1 649.6,312.7" class="k kc"/>
<polyline points="216.7,526.2 264.8,524.5 312.9,520.9 361,517 409.1,507.3 457.2,486.1 505.3,456 553.4,424.7 601.5,399.5 649.6,385.7" class="r rd"/>
<polyline points="216.7,518 264.8,517 312.9,515.1 361,510.6 409.1,505.4 457.2,493.3 505.3,482.3 553.4,472.5 601.5,465.2 649.6,462.1" class="k kt"/>
<polyline points="216.7,518.6 264.8,518.4 312.9,516.5 361,516.4 409.1,514.9 457.2,506.9 505.3,499.9 553.4,492.3 601.5,486 649.6,484.7" class="k kq"/>
<polyline points="216.7,520.4 264.8,518.4 312.9,517.1 361,511.6 409.1,502.9 457.2,493.2 505.3,483.5 553.4,477.8 601.5,471.4 649.6,469.8" class="r rd"/>
<polyline points="216.7,522.3 264.8,521.5 312.9,519.8 361,514.7 409.1,505.4 457.2,489.8 505.3,474.8 553.4,464 601.5,460.5 649.6,456.4" class="r rs"/>
<polyline points="216.7,524.7 264.8,523.9 312.9,524.6 361,524.3 409.1,522.4 457.2,518.9 505.3,510.7 553.4,500.2 601.5,490.6 649.6,485.1" class="k kd"/>
<polyline points="216.7,521.6 264.8,519.5 312.9,515 361,506.8 409.1,487.7 457.2,455.8 505.3,415.4 553.4,378.5 601.5,358.2 649.6,345.6" class="k kq"/>
<polyline points="216.7,522.8 264.8,520.4 312.9,512.1 361,501.4 409.1,476.9 457.2,449.5 505.3,421.2 553.4,398.7 601.5,389.9 649.6,383.4" class="r rd"/>
<polyline points="216.7,524.3 264.8,523.8 312.9,520.3 361,516.3 409.1,506.6 457.2,491.6 505.3,477 553.4,465.9 601.5,459.8 649.6,455.7" class="k ks"/>
<polyline points="216.7,526.5 264.8,526.4 312.9,524.9 361,522.1 409.1,515 457.2,502.4 505.3,486.6 553.4,471.6 601.5,463.3 649.6,458.9" class="r rq"/>
<polyline points="216.7,526 264.8,525.6 312.9,525.2 361,524.7 409.1,521.1 457.2,517.3 505.3,508.4 553.4,497.1 601.5,487.6 649.6,481.2" class="k kc"/>
<polyline points="216.7,527.7 264.8,526 312.9,521.5 361,513.1 409.1,494.6 457.2,469.8 505.3,442.9 553.4,425.3 601.5,416.6 649.6,413.1" class="k kq"/>
<polyline points="216.7,517.6 264.8,514.5 312.9,510.9 361,502.4 409.1,485.8 457.2,461.4 505.3,435.3 553.4,414.8 601.5,405.9 649.6,397.9" class="k kc"/>
<polyline points="216.7,520.3 264.8,516.1 312.9,508.7 361,495.5 409.1,470.4 457.2,433.7 505.3,398.9 553.4,366.5 601.5,349.8 649.6,339.9" class="k kd"/>
<polyline points="216.7,525.9 264.8,526.1 312.9,524.3 361,524.2 409.1,519.3 457.2,514.6 505.3,506.9 553.4,501.3 601.5,498.6 649.6,496.5" class="k kq"/>
<polyline points="216.7,519.4 264.8,518 312.9,515.7 361,509.2 409.1,489.4 457.2,461.4 505.3,428 553.4,411.6 601.5,403.1 649.6,396.2" class="k kq"/>
<polyline points="216.7,527.6 264.8,525.2 312.9,519.9 361,508.6 409.1,486.6 457.2,458.4 505.3,427.6 553.4,410.7 601.5,395.3 649.6,387.7" class="r rq"/>
<polyline points="216.7,525.6 264.8,522.9 312.9,516.7 361,504.8 409.1,484.7 457.2,456 505.3,427.5 553.4,402.5 601.5,384.4 649.6,375.7" class="k kd"/>
<polyline points="216.7,524.7 264.8,522.7 312.9,514.1 361,499.6 409.1,474.9 457.2,441.9 505.3,410.4 553.4,392.3 601.5,376.5 649.6,374" class="r rq"/>
<polyline points="216.7,526.2 264.8,522.1 312.9,513.4 361,498.7 409.1,473 457.2,441.3 505.3,405.8 553.4,385.1 601.5,370.2 649.6,364" class="k kq"/>
<polyline points="216.7,526 264.8,525.8 312.9,525.4 361,522.9 409.1,516.9 457.2,507.4 505.3,496.5 553.4,486.3 601.5,481.5 649.6,479.6" class="k kc"/>
<polyline points="216.7,527.1 264.8,526.8 312.9,525.1 361,520.9 409.1,513.4 457.2,500.7 505.3,485 553.4,468.8 601.5,458.7 649.6,452.6" class="r rs"/>
<polyline points="216.7,520 264.8,519.6 312.9,519.1 361,519.5 409.1,519.3 457.2,515.4 505.3,510.9 553.4,503.3 601.5,499.5 649.6,495" class="k kc"/>
<polyline points="216.7,524.6 264.8,524.8 312.9,523.5 361,522.4 409.1,522.7 457.2,518.3 505.3,510.3 553.4,501.6 601.5,496.7 649.6,493.4" class="k kq"/>
<polyline points="216.7,523.5 264.8,521 312.9,516.5 361,504.2 409.1,479.1 457.2,439 505.3,396.4 553.4,366.6 601.5,355.8 649.6,348" class="r rq"/>
<polyline points="216.7,522.4 264.8,523 312.9,521.8 361,521.9 409.1,519.9 457.2,517.4 505.3,510 553.4,504.8 601.5,497.4 649.6,493.4" class="k kt"/>
<polyline points="216.7,520.5 264.8,517.4 312.9,511.2 361,495.3 409.1,469.7 457.2,437.7 505.3,404.6 553.4,380.1 601.5,368.2 649.6,358.4" class="r rc"/>
<polyline points="216.7,521.7 264.8,518.1 312.9,514.4 361,503.8 409.1,484.4 457.2,456.5 505.3,425 553.4,396.6 601.5,382.3 649.6,372.4" class="k kc"/>
<polyline points="216.7,525 264.8,523.4 312.9,519.7 361,512.5 409.1,493.4 457.2,458.3 505.3,419.4 553.4,390.2 601.5,375.6 649.6,372.2" class="r rc"/>
<polyline points="216.7,517.7 264.8,516 312.9,512.2 361,504.5 409.1,486.2 457.2,456.4 505.3,421.4 553.4,393 601.5,374.2 649.6,367.2" class="k kt"/>
<polyline points="216.7,528.1 264.8,524.9 312.9,517.5 361,502.3 409.1,480.7 457.2,448.6 505.3,417.4 553.4,391.2 601.5,378.5 649.6,366.9" class="k kc"/>
<polyline points="216.7,526 264.8,525.4 312.9,525.7 361,523.8 409.1,524.3 457.2,522 505.3,512.6 553.4,503.5 601.5,496.1 649.6,494.9" class="k kd"/>
<polyline points="216.7,526.7 264.8,525.9 312.9,520.6 361,512.1 409.1,496.3 457.2,473.6 505.3,446.4 553.4,420.7 601.5,404.9 649.6,397.6" class="k kq"/>
<polyline points="216.7,525.7 264.8,524.4 312.9,523.1 361,517.9 409.1,506.8 457.2,485.8 505.3,460.9 553.4,438.3 601.5,428.6 649.6,425.6" class="r rs"/>
<polyline points="216.7,519.9 264.8,517.9 312.9,510.8 361,497.8 409.1,471.8 457.2,429 505.3,393.2 553.4,361.1 601.5,342.7 649.6,337.3" class="k kc"/>
<polyline points="216.7,522.8 264.8,521.4 312.9,519.7 361,511.6 409.1,495.5 457.2,470 505.3,446.2 553.4,427.2 601.5,421 649.6,417.8" class="r rd"/>
<polyline points="216.7,526.8 264.8,525.4 312.9,524.6 361,516.4 409.1,501 457.2,468.7 505.3,426.6 553.4,395.7 601.5,377.7 649.6,368.6" class="r rc"/>
<polyline points="216.7,522.4 264.8,521.5 312.9,519.5 361,514.1 409.1,498.2 457.2,465 505.3,427.5 553.4,392.8 601.5,376.6 649.6,373.4" class="k kc"/>
<polyline points="216.7,525.6 264.8,524 312.9,520.7 361,514.6 409.1,500.6 457.2,481.7 505.3,459.2 553.4,443.9 601.5,434.2 649.6,430.2" class="r rd"/>
<polyline points="216.7,523.3 264.8,522.3 312.9,516 361,505.6 409.1,487 457.2,457.8 505.3,421.1 553.4,389.6 601.5,365.2 649.6,351.9" class="k kc"/>
<polyline points="216.7,528.7 264.8,527.2 312.9,522.6 361,511.1 409.1,491.3 457.2,462.2 505.3,432.8 553.4,411.8 601.5,396.5 649.6,397.3" class="r rq"/>
<polyline points="216.7,526.8 264.8,524.9 312.9,520.4 361,511.8 409.1,494.8 457.2,468.9 505.3,441.3 553.4,419.8 601.5,407.2 649.6,397.9" class="k kc"/>
<polyline points="216.7,525.9 264.8,523.9 312.9,518.1 361,510.8 409.1,493.7 457.2,462 505.3,421.1 553.4,383.3 601.5,363 649.6,344.5" class="r rc"/>
<polyline points="216.7,522 264.8,521.2 312.9,518.5 361,510.9 409.1,501.8 457.2,489.6 505.3,478.3 553.4,469.5 601.5,466.2 649.6,463.1" class="r rc"/>
<polyline points="216.7,519.7 264.8,519.7 312.9,518.5 361,516.5 409.1,509.2 457.2,498.7 505.3,479.3 553.4,464.6 601.5,453.5 649.6,450.1" class="k kq"/>
<polyline points="216.7,524 264.8,524 312.9,520.9 361,512.2 409.1,497.5 457.2,467.8 505.3,435.1 553.4,410.7 601.5,397.9 649.6,397.2" class="r rt"/>
<polyline points="216.7,526.7 264.8,526.4 312.9,522.8 361,517.2 409.1,505.8 457.2,492.1 505.3,473.9 553.4,457.5 601.5,448.5 649.6,444.2" class="r rq"/>
<polyline points="216.7,517 264.8,516 312.9,511.4 361,501.5 409.1,482.2 457.2,452.5 505.3,419.9 553.4,397.5 601.5,383.2 649.6,378.9" class="k kc"/>
<polyline points="216.7,520.4 264.8,519.2 312.9,521.1 361,518.1 409.1,513.6 457.2,503.2 505.3,492.8 553.4,486.9 601.5,483.4 649.6,483.1" class="r rt"/>
<polyline points="216.7,525.7 264.8,525 312.9,526.1 361,523.3 409.1,521.6 457.2,515.3 505.3,507.4 553.4,501.6 601.5,497.7 649.6,497.1" class="k kc"/>
<polyline points="216.7,521.5 264.8,520.6 312.9,517.5 361,509.3 409.1,495.6 457.2,472.4 505.3,454.5 553.4,443.3 601.5,438.5 649.6,437.7" class="r rq"/>
<polyline points="216.7,527.9 264.8,527.4 312.9,524.6 361,518.3 409.1,502.1 457.2,470.8 505.3,432.1 553.4,404.5 601.5,387.7 649.6,382.4" class="k kc"/>
<polyline points="216.7,518.1 264.8,519.2 312.9,518.7 361,518 409.1,514.1 457.2,511 505.3,504.7 553.4,500.3 601.5,497 649.6,494.8" class="k kq"/>
<polyline points="216.7,520.3 264.8,516.9 312.9,512.1 361,501.8 409.1,482.4 457.2,453.1 505.3,425.5 553.4,401.6 601.5,391.2 649.6,383.1" class="r rq"/>
<polyline points="216.7,523.2 264.8,522.9 312.9,523.8 361,520.5 409.1,517.4 457.2,512.1 505.3,503.8 553.4,495.3 601.5,491.6 649.6,488.4" class="r rc"/>
<polyline points="216.7,528.8 264.8,527.5 312.9,522.4 361,510.2 409.1,491.2 457.2,461.4 505.3,432.9 553.4,409.4 601.5,399.8 649.6,393.5" class="k kc"/>
<polyline points="216.7,526.5 264.8,523.9 312.9,517.3 361,505.2 409.1,484.8 457.2,451.6 505.3,413.2 553.4,379.3 601.5,355.1 649.6,340" class="k kc"/>
<polyline points="216.7,520.3 264.8,519.7 312.9,517.9 361,513.3 409.1,505.2 457.2,494 505.3,479.4 553.4,464.9 601.5,455.4 649.6,450.3" class="r rq"/>
<polyline points="216.7,523.2 264.8,522.1 312.9,520.6 361,515.6 409.1,508.3 457.2,497 505.3,486.1 553.4,477.3 601.5,472.8 649.6,471" class="r rt"/>
<polyline points="216.7,521.1 264.8,520 312.9,517.8 361,515.3 409.1,507 457.2,491.5 505.3,481 553.4,472.3 601.5,467.4 649.6,464.8" class="r rq"/>
<polyline points="216.7,522.4 264.8,522.5 312.9,523.2 361,520.1 409.1,517.7 457.2,512.3 505.3,502.2 553.4,490.7 601.5,481.5 649.6,478.7" class="r rd"/>
<polyline points="216.7,522.7 264.8,521.4 312.9,516.2 361,505.2 409.1,488.4 457.2,465.1 505.3,441.4 553.4,426.4 601.5,413.6 649.6,409.2" class="r rs"/>
<polyline points="216.7,528 264.8,526.8 312.9,523.8 361,519.2 409.1,507.1 457.2,491.4 505.3,473.6 553.4,454.8 601.5,442.6 649.6,437.1" class="k kq"/>
<polyline points="216.7,520.8 264.8,518.5 312.9,512 361,502.4 409.1,481.5 457.2,454.2 505.3,418.2 553.4,385.2 601.5,366.9 649.6,354.3" class="r rt"/>
<polyline points="216.7,526.6 264.8,525 312.9,523.1 361,519.2 409.1,510.1 457.2,492.7 505.3,475.1 553.4,461 601.5,455.8 649.6,453.1" class="k kq"/>
<polyline points="216.7,525.5 264.8,523.9 312.9,520 361,511.6 409.1,494.5 457.2,470.1 505.3,445 553.4,426 601.5,418.8 649.6,413.7" class="r rq"/>
<polyline points="216.7,525.9 264.8,523.6 312.9,520.8 361,510.4 409.1,488.6 457.2,457.8 505.3,419.1 553.4,400.2 601.5,391.5 649.6,390.6" class="r rd"/>
<polyline points="216.7,519.9 264.8,519.6 312.9,516.5 361,511.3 409.1,503 457.2,489.9 505.3,478.6 553.4,468.2 601.5,462.6 649.6,461.3" class="r rq"/>
<polyline points="216.7,528 264.8,527.7 312.9,527.6 361,526.5 409.1,522.8 457.2,513.8 505.3,500 553.4,490.5 601.5,485.9 649.6,484" class="r rc"/>
<polyline points="216.7,526.6 264.8,524.3 312.9,518.7 361,508.5 409.1,490.7 457.2,465.1 505.3,435.9 553.4,413.1 601.5,398.2 649.6,389.5" class="r rq"/>
<polyline points="216.7,523.6 264.8,523.5 312.9,523.2 361,520.5 409.1,516.3 457.2,509.3 505.3,497.5 553.4,484.7 601.5,475.9 649.6,472.8" class="r rc"/>
<polyline points="216.7,528 264.8,524.9 312.9,518.2 361,505.6 409.1,479.2 457.2,442.7 505.3,403.6 553.4,369.5 601.5,346.5 649.6,339.3" class="r rt"/>
<polyline points="216.7,523.4 264.8,522.7 312.9,517.5 361,508.3 409.1,491.7 457.2,465.7 505.3,440.6 553.4,422.1 601.5,411 649.6,407.3" class="r rc"/>
<polyline points="216.7,527 264.8,527.4 312.9,526.4 361,525 409.1,520.1 457.2,511.1 505.3,497.1 553.4,489.1 601.5,480.9 649.6,478.7" class="k ks"/>
<polyline points="216.7,520.9 264.8,519.9 312.9,517.4 361,512.3 409.1,503.6 457.2,490.9 505.3,476.2 553.4,465.1 601.5,456.8 649.6,454.2" class="r rc"/>
<polyline points="216.7,520.2 264.8,519.6 312.9,518.4 361,513.5 409.1,509.2 457.2,498.2 505.3,484.2 553.4,471.4 601.5,462 649.6,457.3" class="k kq"/>
<polyline points="216.7,518.2 264.8,515.9 312.9,511.7 361,500.1 409.1,476.7 457.2,439.8 505.3,394.5 553.4,365.9 601.5,352.5 649.6,346.5" class="k kt"/>
<polyline points="216.7,525.4 264.8,524.3 312.9,520.2 361,515.6 409.1,503.3 457.2,484.5 505.3,463.6 553.4,448.7 601.5,439.8 649.6,438.3" class="r rc"/>
<polyline points="216.7,520.9 264.8,519.7 312.9,515.1 361,503.6 409.1,486.9 457.2,455.3 505.3,416.8 553.4,388.6 601.5,372.1 649.6,364.5" class="k kc"/>
<polyline points="216.7,521.3 264.8,520 312.9,522.1 361,518.8 409.1,517.6 457.2,510.2 505.3,502.8 553.4,492.8 601.5,483.6 649.6,479.3" class="k kc"/>
<polyline points="216.7,524.8 264.8,524.4 312.9,523.9 361,522.2 409.1,519.7 457.2,513.5 505.3,503.4 553.4,494.9 601.5,488.8 649.6,487.1" class="r rd"/>
<polyline points="216.7,526.5 264.8,526 312.9,526.4 361,526.1 409.1,524.3 457.2,521.3 505.3,513.6 553.4,503.1 601.5,494.8 649.6,491.1" class="k ks"/>
<polyline points="216.7,526.8 264.8,526.4 312.9,523 361,516.5 409.1,497.4 457.2,463.2 505.3,420.4 553.4,383.7 601.5,366 649.6,359.4" class="k kq"/>
<polyline points="216.7,519.9 264.8,519.6 312.9,519.1 361,516.8 409.1,513 457.2,505 505.3,494.6 553.4,486.6 601.5,482.2 649.6,479" class="k kc"/>
<polyline points="216.7,517.7 264.8,517.4 312.9,516.5 361,516 409.1,513.8 457.2,510.6 505.3,505.2 553.4,497.7 601.5,492.4 649.6,489.5" class="k kc"/>
<polyline points="216.7,520.9 264.8,519.9 312.9,518 361,516.8 409.1,507.6 457.2,495.7 505.3,481.5 553.4,471.1 601.5,463.3 649.6,459.9" class="r rd"/>
<polyline points="216.7,526 264.8,524.8 312.9,521.3 361,514.5 409.1,504.2 457.2,486.9 505.3,471.5 553.4,459.3 601.5,452.4 649.6,448.2" class="r rc"/>
<polyline points="216.7,520.9 264.8,518.2 312.9,515.5 361,504.3 409.1,483.2 457.2,448.9 505.3,404.1 553.4,371.5 601.5,353.3 649.6,346.5" class="r rc"/>
<polyline points="216.7,518.1 264.8,516.1 312.9,512.8 361,506.1 409.1,494.5 457.2,479.5 505.3,464.3 553.4,453.1 601.5,447 649.6,445.1" class="k kc"/>
<polyline points="216.7,523.6 264.8,524.2 312.9,521.7 361,519.6 409.1,514.3 457.2,502.8 505.3,486.8 553.4,472.9 601.5,463.7 649.6,460.1" class="r rc"/>
<polyline points="216.7,522.7 264.8,523.3 312.9,522.7 361,521.9 409.1,518.6 457.2,514.6 505.3,508.3 553.4,501.7 601.5,498.3 649.6,498.5" class="k kc"/>
<polyline points="216.7,527.6 264.8,522.7 312.9,515.1 361,498.7 409.1,466.7 457.2,424.4 505.3,376.6 553.4,341.5 601.5,322.9 649.6,311" class="r rq"/>
<polyline points="216.7,518.8 264.8,518.6 312.9,518.9 361,518.3 409.1,518.9 457.2,513.6 505.3,509.8 553.4,504.3 601.5,499.6 649.6,498" class="k kq"/>
<polyline points="216.7,527.5 264.8,527.1 312.9,527 361,526.6 409.1,523.7 457.2,516.5 505.3,507.8 553.4,496.4 601.5,491.7 649.6,489.8" class="k kd"/>
<polyline points="216.7,524.5 264.8,522.6 312.9,515.1 361,501.8 409.1,479.7 457.2,450.8 505.3,422.1 553.4,402 601.5,389.8 649.6,382.5" class="r rs"/>
<polyline points="216.7,518.3 264.8,517.5 312.9,518.2 361,516.1 409.1,514.8 457.2,508.3 505.3,500.7 553.4,493.1 601.5,487.2 649.6,486" class="k kq"/>
<polyline points="216.7,523.5 264.8,522.7 312.9,520.5 361,515.3 409.1,504.1 457.2,492.3 505.3,475.8 553.4,465.2 601.5,459.6 649.6,457.1" class="r rq"/>
<polyline points="216.7,520.6 264.8,517.2 312.9,514.1 361,501.4 409.1,479.6 457.2,447.1 505.3,410.7 553.4,386.5 601.5,368.6 649.6,361.4" class="r rc"/>
<polyline points="216.7,520.7 264.8,519.8 312.9,517.9 361,511.4 409.1,499.6 457.2,480.9 505.3,466.8 553.4,455.1 601.5,451.4 649.6,450.2" class="r rc"/>
<polyline points="216.7,527.4 264.8,528.2 312.9,526.9 361,525.3 409.1,523.7 457.2,519.3 505.3,510.7 553.4,505.2 601.5,499.2 649.6,498" class="k kd"/>
<polyline points="216.7,527.8 264.8,527.1 312.9,527.5 361,525.6 409.1,521.5 457.2,513.3 505.3,502.2 553.4,490.7 601.5,481.5 649.6,477.7" class="k kc"/>
<polyline points="216.7,517.3 264.8,516.5 312.9,517.2 361,517.1 409.1,516 457.2,511.8 505.3,505.8 553.4,500.7 601.5,494.3 649.6,489.9" class="k kq"/>
<polyline points="216.7,520.8 264.8,520.7 312.9,517 361,508.5 409.1,492.9 457.2,469.9 505.3,451.8 553.4,442.3 601.5,436.8 649.6,435.1" class="k kc"/>
<polyline points="216.7,526.7 264.8,524.7 312.9,518.2 361,507.8 409.1,487.5 457.2,460.4 505.3,432.6 553.4,405.2 601.5,393.5 649.6,381.1" class="r rc"/>
<polyline points="216.7,527.4 264.8,526.9 312.9,525.9 361,521.8 409.1,511.4 457.2,492.8 505.3,467.5 553.4,450.6 601.5,439.8 649.6,437.2" class="k kq"/>
<polyline points="216.7,521.1 264.8,516.7 312.9,509.7 361,496.1 409.1,471.3 457.2,440.3 505.3,410.6 553.4,382.3 601.5,367.6 649.6,355.4" class="r rs"/>
<polyline points="216.7,524.2 264.8,520.8 312.9,515.9 361,500.5 409.1,477.8 457.2,447.9 505.3,419.1 553.4,400.4 601.5,392.8 649.6,387.9" class="r rq"/>
<polyline points="216.7,526.6 264.8,526.7 312.9,526.4 361,522.3 409.1,520.5 457.2,510.2 505.3,502.6 553.4,493.8 601.5,488.1 649.6,489.3" class="r rs"/>
<polyline points="216.7,526.4 264.8,524.7 312.9,517.5 361,507.5 409.1,491.1 457.2,468 505.3,448.6 553.4,436.6 601.5,423.1 649.6,419" class="r rc"/>
<polyline points="216.7,524.7 264.8,522.9 312.9,523.6 361,521.3 409.1,519 457.2,515.4 505.3,506.2 553.4,500.2 601.5,496 649.6,493.4" class="r rc"/>
<polyline points="216.7,520.6 264.8,519.1 312.9,511.2 361,496.8 409.1,470.2 457.2,431.9 505.3,394.1 553.4,361.2 601.5,353.5 649.6,340.6" class="k kc"/>
<polyline points="216.7,526.6 264.8,526.5 312.9,522.8 361,518.4 409.1,508.2 457.2,493.6 505.3,480.3 553.4,473.4 601.5,469.7 649.6,467.3" class="r rt"/>
<polyline points="216.7,526.7 264.8,526.4 312.9,525.5 361,524.6 409.1,523.2 457.2,521.5 505.3,514.1 553.4,506.4 601.5,500.2 649.6,495.3" class="k kq"/>
<polyline points="216.7,522.1 264.8,520.8 312.9,517.4 361,511.5 409.1,503.6 457.2,489.2 505.3,475.4 553.4,464.8 601.5,455.9 649.6,453.1" class="r rq"/>
<polyline points="216.7,523.6 264.8,519.8 312.9,514.9 361,500.8 409.1,480.2 457.2,451.7 505.3,418.9 553.4,393.4 601.5,379.5 649.6,371.9" class="r rt"/>
<polyline points="216.7,524.6 264.8,524.8 312.9,525.1 361,524.4 409.1,520.2 457.2,518.7 505.3,511.4 553.4,501.2 601.5,488.7 649.6,479.7" class="k kc"/>
<polyline points="216.7,524.2 264.8,523.1 312.9,518.6 361,508.3 409.1,490.9 457.2,463.8 505.3,433.2 553.4,413.3 601.5,402 649.6,397.1" class="k kc"/>
<polyline points="216.7,526 264.8,525.2 312.9,521.5 361,514.9 409.1,501.1 457.2,479.1 505.3,457.8 553.4,442.6 601.5,439.1 649.6,435.3" class="k kc"/>
<polyline points="216.7,524.7 264.8,524.8 312.9,524.6 361,522.7 409.1,519.2 457.2,514.4 505.3,505.6 553.4,494.7 601.5,485.6 649.6,483.6" class="r rc"/>
<polyline points="216.7,519.4 264.8,518.8 312.9,517.3 361,518.2 409.1,514.4 457.2,510.8 505.3,503.5 553.4,498 601.5,496.4 649.6,494.5" class="k ks"/>
<polyline points="216.7,520.3 264.8,519.3 312.9,512.5 361,505 409.1,488 457.2,468.3 505.3,447.4 553.4,431.4 601.5,422.9 649.6,418.4" class="r rc"/>
<polyline points="216.7,518.7 264.8,515.3 312.9,510.1 361,498 409.1,476.8 457.2,446.7 505.3,415.3 553.4,389.4 601.5,375.9 649.6,364.2" class="k kq"/>
<polyline points="216.7,525.3 264.8,524.8 312.9,522 361,516.9 409.1,505.1 457.2,482.7 505.3,448.3 553.4,405.8 601.5,376.2 649.6,358.6" class="k kc"/>
<polyline points="216.7,524.8 264.8,524 312.9,524.3 361,523 409.1,520.9 457.2,513.1 505.3,506.6 553.4,496.3 601.5,488.5 649.6,486.5" class="r rq"/>
<polyline points="216.7,524.9 264.8,523.2 312.9,523.1 361,522.2 409.1,518.6 457.2,510.6 505.3,500.5 553.4,490.5 601.5,485.7 649.6,484.7" class="k kc"/>
<polyline points="216.7,528 264.8,527.9 312.9,527.9 361,527 409.1,525.5 457.2,522.6 505.3,515.8 553.4,504.7 601.5,493.3 649.6,489.5" class="k ks"/>
<polyline points="216.7,522.6 264.8,520.1 312.9,514.9 361,502.8 409.1,480.3 457.2,446 505.3,405.1 553.4,379.7 601.5,362.1 649.6,358.1" class="r rc"/>
<polyline points="216.7,522.9 264.8,519.5 312.9,516.2 361,505.4 409.1,488.7 457.2,464 505.3,442.4 553.4,424.6 601.5,418.9 649.6,415.2" class="r rd"/>
<polyline points="216.7,520.3 264.8,521.6 312.9,520.1 361,519.6 409.1,518.1 457.2,514.9 505.3,506.8 553.4,498.9 601.5,494 649.6,492.9" class="k kq"/>
<polyline points="216.7,525.3 264.8,525 312.9,524.9 361,525.7 409.1,522.6 457.2,515 505.3,505.8 553.4,497.9 601.5,495.5 649.6,492.8" class="r rc"/>
<polyline points="216.7,527.4 264.8,526.6 312.9,523.9 361,516.3 409.1,498.4 457.2,464.9 505.3,421.6 553.4,386.8 601.5,366.2 649.6,361.1" class="r rq"/>
<polyline points="216.7,527.3 264.8,527.4 312.9,527 361,527.2 409.1,524.1 457.2,520.4 505.3,510.6 553.4,502.1 601.5,496.1 649.6,494.2" class="k kc"/>
<polyline points="216.7,523.3 264.8,523 312.9,522.2 361,523.6 409.1,521.3 457.2,516.9 505.3,507.5 553.4,496 601.5,488.9 649.6,485.6" class="k ks"/>
<polyline points="216.7,527.7 264.8,527.4 312.9,523.3 361,515.3 409.1,497.4 457.2,463.6 505.3,422.1 553.4,385.4 601.5,365.4 649.6,354.5" class="k kd"/>
<polyline points="216.7,528.5 264.8,526.5 312.9,522.5 361,513.8 409.1,498.1 457.2,471.3 505.3,441.1 553.4,420.8 601.5,403.8 649.6,395.2" class="r rd"/>
<polyline points="216.7,523.8 264.8,520.9 312.9,514.9 361,503.3 409.1,481.7 457.2,452.6 505.3,418.7 553.4,396.8 601.5,378.8 649.6,372.8" class="r rd"/>
<polyline points="216.7,522.1 264.8,519.7 312.9,515.7 361,504.7 409.1,486.5 457.2,455.4 505.3,424.1 553.4,397.4 601.5,384.2 649.6,374" class="r rc"/>
<polyline points="216.7,521 264.8,517.8 312.9,512.3 361,499 409.1,479 457.2,447.2 505.3,415.8 553.4,390.1 601.5,378.7 649.6,368.7" class="k kd"/>
<polyline points="216.7,524.9 264.8,522.4 312.9,517.1 361,506.7 409.1,487.5 457.2,465.1 505.3,442.3 553.4,423.4 601.5,413.5 649.6,410.3" class="k kc"/>
<polyline points="216.7,519.2 264.8,517.8 312.9,514.3 361,507.5 409.1,496.4 457.2,477.1 505.3,455.5 553.4,438.2 601.5,426.9 649.6,422.9" class="k kc"/>
<polyline points="216.7,522.9 264.8,521.6 312.9,516.7 361,504.9 409.1,488.5 457.2,465.4 505.3,437 553.4,420.6 601.5,410 649.6,402.8" class="k kd"/>
<polyline points="216.7,524.8 264.8,521.7 312.9,514.9 361,501.5 409.1,480.6 457.2,448.7 505.3,419.6 553.4,392.2 601.5,373.9 649.6,366.2" class="r rc"/>
<polyline points="216.7,523 264.8,521.7 312.9,518.1 361,512.7 409.1,502 457.2,487.5 505.3,474.3 553.4,462.3 601.5,456.9 649.6,452.9" class="r rq"/>
<polyline points="216.7,521.7 264.8,520.1 312.9,518.7 361,511.7 409.1,494.2 457.2,463.8 505.3,426.6 553.4,397.6 601.5,385.4 649.6,382" class="k kc"/>
<polyline points="216.7,526.2 264.8,525 312.9,524.3 361,524.6 409.1,522.6 457.2,519.1 505.3,510.1 553.4,500.5 601.5,495.2 649.6,490.8" class="k kq"/>
<polyline points="216.7,524.5 264.8,523.5 312.9,521.4 361,514 409.1,502.4 457.2,481.3 505.3,456 553.4,434.1 601.5,420.2 649.6,413.2" class="k kt"/>
<polyline points="216.7,521.4 264.8,520.5 312.9,513.7 361,504.7 409.1,478.9 457.2,437.5 505.3,396.1 553.4,360.6 601.5,342.5 649.6,340" class="k ks"/>
<polyline points="216.7,524 264.8,524.3 312.9,521.7 361,520.3 409.1,517.5 457.2,506.3 505.3,497.1 553.4,489.2 601.5,483.9 649.6,483.2" class="r rc"/>
<polyline points="216.7,521.1 264.8,520.5 312.9,515.9 361,505.3 409.1,482.8 457.2,444 505.3,407.5 553.4,383.4 601.5,372.6 649.6,371" class="k kq"/>
<polyline points="216.7,523.8 264.8,522.1 312.9,518.1 361,510.2 409.1,493.2 457.2,465.4 505.3,432.7 553.4,413.2 601.5,402.7 649.6,398.1" class="r rq"/>
<polyline points="216.7,524.7 264.8,523.5 312.9,520.9 361,512.9 409.1,498.5 457.2,474.1 505.3,446.9 553.4,422.7 601.5,407.7 649.6,399.1" class="k kq"/>
<polyline points="216.7,523.8 264.8,520.8 312.9,515.7 361,504.5 409.1,485.5 457.2,456.5 505.3,425.4 553.4,396.3 601.5,378.5 649.6,371.2" class="r rc"/>
<polyline points="216.7,520.1 264.8,517 312.9,513.3 361,502.5 409.1,484.2 457.2,452.9 505.3,422.7 553.4,395.7 601.5,380.1 649.6,367.5" class="k kc"/>
<polyline points="216.7,525.7 264.8,522.7 312.9,515.2 361,502.5 409.1,477.2 457.2,442.1 505.3,400.8 553.4,376 601.5,356.7 649.6,350.2" class="k kq"/>
<polyline points="216.7,527.1 264.8,525.5 312.9,525.2 361,518.6 409.1,504.4 457.2,481.6 505.3,456.1 553.4,437.9 601.5,427 649.6,422.3" class="r rq"/>
<polyline points="216.7,519.3 264.8,518.5 312.9,517.7 361,517.8 409.1,516.2 457.2,512.8 505.3,505.5 553.4,501.3 601.5,496.8 649.6,494.1" class="k kd"/>
<polyline points="216.7,524.2 264.8,523.6 312.9,521.5 361,518.6 409.1,511.6 457.2,500.3 505.3,480.9 553.4,460.5 601.5,447.9 649.6,438.8" class="r rq"/>
<polyline points="216.7,518.9 264.8,520.4 312.9,518 361,518.7 409.1,516.7 457.2,510.7 505.3,502.3 553.4,493.3 601.5,484.4 649.6,483.4" class="k kt"/>
<polyline points="216.7,525.9 264.8,523.3 312.9,518.6 361,507.3 409.1,483 457.2,449.9 505.3,419.7 553.4,400.6 601.5,389.1 649.6,386" class="r rc"/>
<polyline points="216.7,527.8 264.8,525.5 312.9,519.9 361,505.8 409.1,477.1 457.2,435.3 505.3,398.8 553.4,380.6 601.5,368.3 649.6,366" class="r rc"/>
<polyline points="216.7,517.6 264.8,514.2 312.9,507.5 361,494.2 409.1,473.6 457.2,441.6 505.3,411.6 553.4,380.5 601.5,364.8 649.6,354.9" class="k kq"/>
<polyline points="216.7,520.5 264.8,519.6 312.9,517 361,511.3 409.1,496.7 457.2,472.6 505.3,441.7 553.4,420.8 601.5,409.7 649.6,405.8" class="r rd"/>
<polyline points="216.7,522.5 264.8,520 312.9,518.1 361,511.3 409.1,492.1 457.2,461.1 505.3,424.2 553.4,398.9 601.5,386.6 649.6,378.9" class="r rd"/>
<polyline points="216.7,521.5 264.8,521 312.9,519.3 361,515.4 409.1,507 457.2,494.9 505.3,484 553.4,478.1 601.5,473.4 649.6,472.4" class="r rc"/>
<polyline points="216.7,522.4 264.8,521.5 312.9,522 361,521.4 409.1,520.5 457.2,515.5 505.3,507.1 553.4,496 601.5,487.9 649.6,485.4" class="r rc"/>
<polyline points="216.7,526.7 264.8,528.1 312.9,526.8 361,525.2 409.1,523.2 457.2,515.7 505.3,502.3 553.4,489.6 601.5,481.4 649.6,478" class="k kc"/>
<polyline points="216.7,526.7 264.8,525 312.9,523.5 361,516.6 409.1,507.3 457.2,488.1 505.3,460.6 553.4,439.6 601.5,419.4 649.6,412.6" class="r rc"/>
<polyline points="216.7,521.7 264.8,519.8 312.9,514.9 361,505.6 409.1,486.8 457.2,458.9 505.3,428 553.4,405.4 601.5,392.1 649.6,380.7" class="r rc"/>
<polyline points="216.7,525.5 264.8,525.8 312.9,527 361,525 409.1,522.1 457.2,519 505.3,513.6 553.4,505.1 601.5,500.4 649.6,495.4" class="k ks"/>
<polyline points="216.7,520 264.8,518.4 312.9,514.9 361,507.7 409.1,485.4 457.2,452.6 505.3,407.3 553.4,377.3 601.5,358.5 649.6,353.2" class="r rs"/>
<polyline points="216.7,524.9 264.8,522.2 312.9,515.2 361,501.8 409.1,480.5 457.2,449 505.3,417.7 553.4,397.8 601.5,385.5 649.6,372.7" class="k kc"/>
<polyline points="216.7,521.8 264.8,519.8 312.9,515.1 361,508.4 409.1,491.5 457.2,469.2 505.3,436.9 553.4,415.5 601.5,404.8 649.6,394.1" class="r rc"/>
<polyline points="216.7,519.3 264.8,518 312.9,514.7 361,511.6 409.1,500.8 457.2,482 505.3,459.8 553.4,441.9 601.5,433.8 649.6,426.3" class="k kc"/>
<polyline points="216.7,524.4 264.8,523.7 312.9,523.7 361,522 409.1,519.1 457.2,512.3 505.3,502.6 553.4,490.8 601.5,483.2 649.6,478.9" class="k kc"/>
<polyline points="216.7,527 264.8,524.5 312.9,518.7 361,504.8 409.1,476.9 457.2,432.6 505.3,383.2 553.4,349.5 601.5,330.9 649.6,332.1" class="r rt"/>
<polyline points="216.7,524.8 264.8,521.2 312.9,514.7 361,502.8 409.1,484.5 457.2,460.7 505.3,438.5 553.4,423.7 601.5,413.2 649.6,413.2" class="k kc"/>
<polyline points="216.7,523.3 264.8,521.7 312.9,520.2 361,516.2 409.1,511.5 457.2,499.8 505.3,488.6 553.4,480.9 601.5,476.6 649.6,474.1" class="k kc"/>
<polyline points="216.7,526.2 264.8,524.5 312.9,521.1 361,511.5 409.1,498.6 457.2,478 505.3,453.6 553.4,432.8 601.5,420.7 649.6,415.5" class="k kc"/>
<polyline points="216.7,528.7 264.8,524.7 312.9,516.1 361,501.9 409.1,474 457.2,437.8 505.3,396.8 553.4,362.4 601.5,351.7 649.6,336.5" class="k kq"/>
<polyline points="216.7,521.6 264.8,520.7 312.9,515.7 361,505.9 409.1,484.6 457.2,450.9 505.3,412.7 553.4,385.5 601.5,376.2 649.6,371.5" class="k kq"/>
<polyline points="216.7,522.4 264.8,521.5 312.9,520.7 361,521.1 409.1,515.9 457.2,507.8 505.3,499.3 553.4,489.8 601.5,482.9 649.6,480.7" class="r rq"/>
<polyline points="216.7,521 264.8,519.9 312.9,515.2 361,504.9 409.1,485.3 457.2,458 505.3,432.4 553.4,414.5 601.5,403.1 649.6,402.7" class="r rt"/>
<polyline points="216.7,518.2 264.8,517.7 312.9,517.8 361,517.9 409.1,516.1 457.2,513 505.3,507.4 553.4,501.4 601.5,497 649.6,495" class="k ks"/>
<polyline points="216.7,528.7 264.8,526.2 312.9,521.6 361,513.6 409.1,501.1 457.2,484.7 505.3,470.5 553.4,462.6 601.5,457.8 649.6,456.6" class="r rq"/>
<polyline points="216.7,519.6 264.8,517.2 312.9,514.7 361,504.2 409.1,484.3 457.2,451.1 505.3,411.1 553.4,383.3 601.5,363.8 649.6,355.4" class="k kc"/>
<polyline points="216.7,525.2 264.8,525 312.9,522.4 361,518.1 409.1,506.6 457.2,484.1 505.3,458.6 553.4,432.9 601.5,422.3 649.6,417.2" class="k kq"/>
<polyline points="216.7,525.2 264.8,524.9 312.9,523.7 361,524.3 409.1,522.9 457.2,519.1 505.3,510.1 553.4,496.9 601.5,490.7 649.6,487.1" class="k kq"/>
<polyline points="216.7,523.3 264.8,519.9 312.9,513.9 361,501.6 409.1,480.2 457.2,450.6 505.3,417.7 553.4,393.7 601.5,375.2 649.6,367.1" class="r rs"/>
<polyline points="216.7,521.2 264.8,521.6 312.9,519.7 361,517.1 409.1,511.1 457.2,502.5 505.3,486.3 553.4,471.3 601.5,462.1 649.6,456" class="k kc"/>
<polyline points="216.7,528.2 264.8,526.6 312.9,523.8 361,516 409.1,502.8 457.2,481.8 505.3,461.3 553.4,444 601.5,437.5 649.6,431.2" class="r rc"/>
<polyline points="216.7,519.5 264.8,519.9 312.9,517.6 361,517.3 409.1,516.3 457.2,511.5 505.3,505.7 553.4,501 601.5,496.9 649.6,495.6" class="k kq"/>
<polyline points="216.7,520.1 264.8,518 312.9,514 361,506.3 409.1,490.6 457.2,463.2 505.3,427.2 553.4,392 601.5,367.1 649.6,348.9" class="k kc"/>
<polyline points="216.7,527.5 264.8,526.6 312.9,521.7 361,512.1 409.1,491 457.2,466.1 505.3,441.7 553.4,425.4 601.5,417.4 649.6,413.4" class="r rc"/>
<polyline points="216.7,522.2 264.8,519.8 312.9,508.8 361,491.5 409.1,465.6 457.2,427.4 505.3,385.6 553.4,350.4 601.5,336.2 649.6,321.8" class="k kt"/>
<polyline points="216.7,524.1 264.8,524.2 312.9,523.3 361,522.6 409.1,520.3 457.2,515.7 505.3,508 553.4,495.7 601.5,487.8 649.6,480.5" class="k kc"/>
<polyline points="216.7,524 264.8,521.3 312.9,515.5 361,506.1 409.1,484.6 457.2,454.6 505.3,424.9 553.4,404.1 601.5,387.5 649.6,380.4" class="r rc"/>
<polyline points="216.7,525.1 264.8,522.5 312.9,521.6 361,515.3 409.1,505.4 457.2,492.3 505.3,478.2 553.4,467.6 601.5,460.5 649.6,455.9" class="r rd"/>
<polyline points="216.7,528.8 264.8,529 312.9,527.8 361,527.2 409.1,523.6 457.2,517.1 505.3,510.7 553.4,499.9 601.5,492.9 649.6,490.1" class="k kt"/>
<polyline points="216.7,522.9 264.8,519.1 312.9,511.2 361,495.6 409.1,472.5 457.2,442.1 505.3,418.8 553.4,399.1 601.5,390.9 649.6,386" class="r rq"/>
<polyline points="216.7,526.3 264.8,524.1 312.9,518.7 361,506.2 409.1,481.9 457.2,447.5 505.3,416.6 553.4,396.3 601.5,385.6 649.6,381.3" class="r rc"/>
<polyline points="216.7,520.4 264.8,519.1 312.9,514.8 361,504.5 409.1,484.7 457.2,456.5 505.3,427.8 553.4,404.4 601.5,395.7 649.6,395.6" class="r rc"/>
<polyline points="216.7,518 264.8,518.2 312.9,517.6 361,515.8 409.1,512.7 457.2,507.7 505.3,497.3 553.4,489.8 601.5,484.4 649.6,479.1" class="k kc"/>
<polyline points="216.7,524.9 264.8,523.6 312.9,524.1 361,524.9 409.1,523 457.2,518.9 505.3,512.3 553.4,501.6 601.5,492.7 649.6,487.8" class="r rc"/>
<polyline points="216.7,523.2 264.8,521.4 312.9,516.8 361,508.7 409.1,495.2 457.2,477 505.3,457.4 553.4,441.1 601.5,430.7 649.6,423.9" class="r rq"/>
<polyline points="216.7,528.2 264.8,527.5 312.9,527.1 361,522.4 409.1,510 457.2,488.7 505.3,465.4 553.4,449.3 601.5,441.8 649.6,440" class="k kc"/>
<polyline points="216.7,518.3 264.8,515 312.9,507 361,492.4 409.1,461.2 457.2,422.3 505.3,384.8 553.4,361.4 601.5,349.5 649.6,347.4" class="k ks"/>
<polyline points="216.7,520 264.8,516.2 312.9,507.7 361,491.3 409.1,465.7 457.2,436.8 505.3,410.7 553.4,396.5 601.5,390.7 649.6,388" class="r rq"/>
<polyline points="216.7,526.4 264.8,523.4 312.9,516.5 361,504.7 409.1,481.7 457.2,443.2 505.3,394.5 553.4,360 601.5,328.1 649.6,314.1" class="k kq"/>
<polyline points="216.7,526.3 264.8,524.9 312.9,522.1 361,516.8 409.1,507.3 457.2,491.1 505.3,474.3 553.4,459.9 601.5,452.4 649.6,445.1" class="r rq"/>
<polyline points="216.7,524 264.8,522.3 312.9,513.1 361,498.7 409.1,475.2 457.2,440 505.3,401.1 553.4,368.8 601.5,355.3 649.6,347" class="k kq"/>
<polyline points="216.7,522.1 264.8,520.9 312.9,519.1 361,513.1 409.1,498.5 457.2,472.6 505.3,441 553.4,412.3 601.5,399.1 649.6,389.7" class="r rs"/>
<polyline points="216.7,524.1 264.8,523.1 312.9,520.2 361,513.4 409.1,498.6 457.2,465.9 505.3,419.8 553.4,382.6 601.5,362.6 649.6,354.3" class="r rc"/>
<polyline points="216.7,522.9 264.8,523.5 312.9,524.1 361,521.3 409.1,522.8 457.2,518.6 505.3,512.6 553.4,504.8 601.5,496.2 649.6,494.8" class="r rc"/>
<polyline points="216.7,518.9 264.8,519.4 312.9,517.7 361,518.1 409.1,515.5 457.2,508.7 505.3,501.2 553.4,492.3 601.5,484.7 649.6,483.3" class="k kq"/>
<polyline points="216.7,522.3 264.8,521.4 312.9,521.9 361,520.9 409.1,518.6 457.2,512.1 505.3,503.1 553.4,491.3 601.5,481.9 649.6,475.7" class="k ks"/>
<polyline points="216.7,522.5 264.8,522.8 312.9,520.3 361,515.7 409.1,504.2 457.2,479.6 505.3,442.1 553.4,410.5 601.5,381.4 649.6,374.2" class="r rt"/>
<polyline points="216.7,520.7 264.8,521.1 312.9,516.9 361,513.4 409.1,499.6 457.2,482.5 505.3,465.5 553.4,452.2 601.5,446.4 649.6,441.4" class="r rq"/>
<polyline points="216.7,519.1 264.8,518.7 312.9,516.1 361,508.7 409.1,491.1 457.2,457.4 505.3,417.1 553.4,378.9 601.5,363.5 649.6,357.6" class="k kq"/>
<polyline points="216.7,522.1 264.8,522.6 312.9,518.9 361,513.2 409.1,500.2 457.2,472.8 505.3,434.3 553.4,401.1 601.5,385.2 649.6,377" class="k kc"/>
<polyline points="216.7,523.8 264.8,523.5 312.9,524 361,521.4 409.1,518.2 457.2,509.5 505.3,496.6 553.4,484.1 601.5,479.4 649.6,476.5" class="k kt"/>
<polyline points="216.7,517.6 264.8,515.6 312.9,509 361,495.8 409.1,474.1 457.2,440.2 505.3,406.2 553.4,382.5 601.5,363.6 649.6,359.9" class="k kc"/>
<polyline points="216.7,520.8 264.8,518.9 312.9,515.4 361,505.9 409.1,488.7 457.2,461.4 505.3,434 553.4,412.1 601.5,396.5 649.6,390.7" class="r rc"/>
<polyline points="216.7,526.5 264.8,523 312.9,517.1 361,502.8 409.1,477.1 457.2,435.2 505.3,389.4 553.4,359.3 601.5,342.6 649.6,337.3" class="k kc"/>
<polyline points="216.7,519.4 264.8,517.1 312.9,513.5 361,506.3 409.1,483.2 457.2,443.7 505.3,393.4 553.4,358.9 601.5,333.3 649.6,329" class="k kc"/>
<polyline points="216.7,521.9 264.8,520.6 312.9,515.4 361,507.3 409.1,491.4 457.2,474.1 505.3,458 553.4,448.1 601.5,441.4 649.6,437.5" class="r rc"/>
<polyline points="216.7,520.8 264.8,521.7 312.9,520.4 361,519.3 409.1,518.6 457.2,513.8 505.3,507.4 553.4,500.2 601.5,491.5 649.6,486.7" class="k ks"/>
<polyline points="216.7,523.6 264.8,521.3 312.9,516.5 361,506 409.1,482.6 457.2,445.3 505.3,395.8 553.4,353.3 601.5,320.2 649.6,306.3" class="r rs"/>
<polyline points="216.7,525.9 264.8,523.4 312.9,517.5 361,504 409.1,475 457.2,433.6 505.3,385.6 553.4,350 601.5,339.9 649.6,329.3" class="r rd"/>
<polyline points="216.7,517.4 264.8,514.9 312.9,511.9 361,502.4 409.1,483.6 457.2,453.8 505.3,426.6 553.4,403.1 601.5,395.2 649.6,391.4" class="k kc"/>
<polyline points="216.7,521.6 264.8,517.1 312.9,511.1 361,498.7 409.1,475.2 457.2,444.1 505.3,408.8 553.4,380.8 601.5,364.9 649.6,350.6" class="k ks"/>
<polyline points="216.7,525.6 264.8,526.3 312.9,523.8 361,525 409.1,520.7 457.2,513.7 505.3,502.3 553.4,491.2 601.5,482.2 649.6,477.9" class="k kq"/>
<polyline points="216.7,523 264.8,522.8 312.9,522 361,522.5 409.1,521.4 457.2,519.4 505.3,512.7 553.4,499.9 601.5,491.3 649.6,484.6" class="r rt"/>
<polyline points="216.7,517.4 264.8,516.4 312.9,517.1 361,516.7 409.1,515.6 457.2,514 505.3,509.2 553.4,501.4 601.5,496.5 649.6,493" class="k kc"/>
<polyline points="216.7,528.5 264.8,528.5 312.9,523.3 361,515.1 409.1,494.1 457.2,458.5 505.3,423.5 553.4,397.3 601.5,386.8 649.6,378" class="k kc"/>
<polyline points="216.7,520 264.8,519.3 312.9,519 361,518.3 409.1,512.9 457.2,507.6 505.3,499.8 553.4,493 601.5,489.2 649.6,487.6" class="k kq"/>
<polyline points="216.7,521 264.8,520.3 312.9,519.7 361,518.6 409.1,515.1 457.2,507.1 505.3,495.9 553.4,486.3 601.5,483.7 649.6,481.1" class="r rs"/>
<polyline points="216.7,526.3 264.8,523.3 312.9,519.9 361,506.8 409.1,487.3 457.2,454.4 505.3,420.7 553.4,392 601.5,376.6 649.6,367.4" class="k kq"/>
<polyline points="216.7,519.8 264.8,517.5 312.9,515.1 361,508.9 409.1,494.9 457.2,477.8 505.3,458.6 553.4,443.6 601.5,435.3 649.6,430.1" class="k kc"/>
<polyline points="216.7,517.7 264.8,517.3 312.9,516.7 361,515.9 409.1,512.2 457.2,505.5 505.3,498.9 553.4,489.8 601.5,484.8 649.6,482.2" class="k ks"/>
<polyline points="216.7,525.7 264.8,523.6 312.9,520 361,512.2 409.1,499.5 457.2,478.6 505.3,455.6 553.4,433.9 601.5,418.7 649.6,412.1" class="r rt"/>
<polyline points="216.7,519.1 264.8,515.3 312.9,507.6 361,492.7 409.1,467.3 457.2,432.5 505.3,401.1 553.4,374.5 601.5,357.5 649.6,349.6" class="k kc"/>
<polyline points="216.7,523 264.8,522.9 312.9,523.4 361,521.5 409.1,521.1 457.2,518.6 505.3,513.8 553.4,506.1 601.5,499.1 649.6,494.7" class="k kq"/>
<polyline points="216.7,527.5 264.8,526.1 312.9,521.3 361,508.5 409.1,481.8 457.2,433.7 505.3,383.7 553.4,338.1 601.5,312.9 649.6,303.7" class="r rc"/>
<polyline points="216.7,521.6 264.8,520.3 312.9,516.6 361,506.4 409.1,489.3 457.2,460.4 505.3,424.2 553.4,394.3 601.5,380.3 649.6,369.2" class="k kc"/>
<polyline points="216.7,527.9 264.8,526.1 312.9,523.3 361,513.5 409.1,498 457.2,478.3 505.3,459.4 553.4,443.3 601.5,433.8 649.6,430.7" class="r rq"/>
<polyline points="216.7,528.6 264.8,526 312.9,525.8 361,519.9 409.1,512.1 457.2,499.5 505.3,484.4 553.4,469.6 601.5,461.4 649.6,455.8" class="k kc"/>
<polyline points="216.7,525.2 264.8,524.4 312.9,522.3 361,516.6 409.1,507.3 457.2,494.5 505.3,481.7 553.4,473.7 601.5,470 649.6,465.5" class="r rq"/>
<polyline points="216.7,523.3 264.8,522 312.9,517.6 361,509.9 409.1,495.3 457.2,473.6 505.3,450.6 553.4,433.5 601.5,421.3 649.6,415" class="r rs"/>
<polyline points="216.7,522.5 264.8,521.5 312.9,515.6 361,502.1 409.1,480.7 457.2,445.3 505.3,410.7 553.4,385.7 601.5,372 649.6,365.9" class="r rt"/>
<polyline points="216.7,522.5 264.8,519.3 312.9,515.4 361,505.3 409.1,482.5 457.2,452 505.3,412 553.4,378.8 601.5,364.4 649.6,351.8" class="k ks"/>
<polyline points="216.7,521.2 264.8,520.3 312.9,518.2 361,509.3 409.1,488.7 457.2,452.8 505.3,409 553.4,378.1 601.5,368 649.6,360.5" class="k kc"/>
<polyline points="216.7,526.5 264.8,525.1 312.9,521.5 361,514 409.1,502 457.2,487.1 505.3,470.6 553.4,460.8 601.5,455.5 649.6,452.5" class="k kq"/>
<polyline points="216.7,526.9 264.8,525.1 312.9,519.4 361,507.3 409.1,483.6 457.2,446.5 505.3,400.2 553.4,359.3 601.5,335.5 649.6,317.9" class="r rc"/>
<polyline points="216.7,527.5 264.8,527.4 312.9,526.4 361,525.9 409.1,524 457.2,519.3 505.3,510.6 553.4,501.1 601.5,494.9 649.6,491.6" class="k ks"/>
<polyline points="216.7,521.3 264.8,517.5 312.9,512.1 361,501.2 409.1,478.7 457.2,446.2 505.3,409.7 553.4,378.2 601.5,360.4 649.6,347.4" class="k kt"/>
<polyline points="216.7,519.6 264.8,519.7 312.9,519 361,517.9 409.1,516.9 457.2,508.3 505.3,496.1 553.4,485.1 601.5,478.9 649.6,476.6" class="k kc"/>
<polyline points="216.7,522.3 264.8,521.2 312.9,515.2 361,507.7 409.1,492.8 457.2,470.6 505.3,447.7 553.4,433.4 601.5,423.9 649.6,419.9" class="r rc"/>
<polyline points="216.7,525.5 264.8,525.4 312.9,525.1 361,522.3 409.1,516.9 457.2,504.9 505.3,488.7 553.4,475.4 601.5,467.1 649.6,462.2" class="r rc"/>
<polyline points="216.7,522 264.8,522 312.9,520.6 361,520 409.1,515.9 457.2,511.6 505.3,501.3 553.4,493.4 601.5,485.3 649.6,484.7" class="k kc"/>
<polyline points="216.7,528.1 264.8,529 312.9,528.1 361,527 409.1,520.6 457.2,514 505.3,500.6 553.4,490.6 601.5,485.8 649.6,482.5" class="k kd"/>
<polyline points="216.7,528.5 264.8,528.7 312.9,523.9 361,513.5 409.1,496.7 457.2,467.3 505.3,435.4 553.4,413.2 601.5,405.6 649.6,400.5" class="k kc"/>
<polyline points="216.7,520.3 264.8,518.4 312.9,514.3 361,505.7 409.1,483.9 457.2,449.8 505.3,412.7 553.4,388.2 601.5,376.8 649.6,369.9" class="r rt"/>
<polyline points="216.7,524.4 264.8,519.6 312.9,512.6 361,498 409.1,467 457.2,427.7 505.3,387.7 553.4,361.5 601.5,350.5 649.6,344.4" class="r rs"/>
<polyline points="216.7,523.2 264.8,523.3 312.9,521.3 361,521.5 409.1,515.9 457.2,505 505.3,491.1 553.4,480.9 601.5,476 649.6,474.1" class="k kc"/>
<polyline points="216.7,524.9 264.8,523.9 312.9,524.8 361,523.7 409.1,520.8 457.2,516.8 505.3,509 553.4,502.7 601.5,497.3 649.6,491.5" class="r rq"/>
<polyline points="216.7,518.6 264.8,518.1 312.9,514.4 361,508.1 409.1,493 457.2,463.7 505.3,430.7 553.4,401.6 601.5,388.2 649.6,382.6" class="k kc"/>
<polyline points="216.7,525.9 264.8,524.5 312.9,518 361,506.9 409.1,487.5 457.2,459 505.3,430.9 553.4,404.1 601.5,391.7 649.6,382.2" class="r rt"/>
<polyline points="216.7,525.3 264.8,523.2 312.9,520.3 361,514.2 409.1,501.5 457.2,489.4 505.3,477.1 553.4,468.9 601.5,465.9 649.6,462.7" class="k kq"/>
<polyline points="216.7,521.8 264.8,522.7 312.9,521.3 361,520.1 409.1,518.6 457.2,513 505.3,504.7 553.4,493.8 601.5,490 649.6,487.4" class="r rt"/>
<polyline points="216.7,527.8 264.8,526.7 312.9,522.9 361,512.8 409.1,490.5 457.2,454.1 505.3,414.1 553.4,390.9 601.5,372.2 649.6,368.8" class="r rt"/>
<polyline points="216.7,525 264.8,523.5 312.9,523.4 361,517.1 409.1,509.3 457.2,498.9 505.3,487.1 553.4,478.8 601.5,473.9 649.6,473" class="k kc"/>
<polyline points="216.7,520.9 264.8,518.9 312.9,516.1 361,507.4 409.1,491 457.2,465.3 505.3,437.9 553.4,415.9 601.5,408.6 649.6,404.4" class="r rc"/>
<polyline points="216.7,527.2 264.8,525.4 312.9,522.9 361,514.8 409.1,496 457.2,464.3 505.3,424 553.4,398.5 601.5,385 649.6,377.2" class="r rs"/>
<polyline points="216.7,527.4 264.8,525.2 312.9,522.1 361,511.4 409.1,490.1 457.2,454.8 505.3,411 553.4,368.9 601.5,346.5 649.6,332.7" class="k kq"/>
<polyline points="216.7,520.7 264.8,517.1 312.9,512.4 361,497.1 409.1,474.8 457.2,443.4 505.3,419.1 553.4,400 601.5,389.8 649.6,387.7" class="r rq"/>
<polyline points="216.7,522 264.8,520.5 312.9,513.4 361,504.3 409.1,482.7 457.2,447.8 505.3,406.5 553.4,370.8 601.5,351.4 649.6,334.3" class="k ks"/>
<polyline points="216.7,519.9 264.8,518 312.9,510.3 361,497.1 409.1,473.4 457.2,442.5 505.3,414.9 553.4,393.1 601.5,385.7 649.6,380.6" class="r rq"/>
<polyline points="216.7,520.7 264.8,518.7 312.9,515.5 361,505.8 409.1,483.9 457.2,449.9 505.3,410.9 553.4,381.2 601.5,370.6 649.6,366.5" class="k kc"/>
<polyline points="216.7,522.9 264.8,520.6 312.9,517.3 361,510.8 409.1,499.7 457.2,486.9 505.3,477.7 553.4,470.6 601.5,467.3 649.6,464.6" class="r rc"/>
<polyline points="216.7,526.6 264.8,526.3 312.9,526.1 361,523.4 409.1,520.2 457.2,513.6 505.3,505.4 553.4,498.3 601.5,492.7 649.6,489.4" class="k kq"/>
<polyline points="216.7,528.7 264.8,527.6 312.9,524.1 361,516.2 409.1,503.2 457.2,485.2 505.3,471.8 553.4,464.4 601.5,462.5 649.6,462.4" class="r rc"/>
<polyline points="216.7,519.7 264.8,519.1 312.9,518.6 361,519.4 409.1,516.1 457.2,512.3 505.3,503.4 553.4,494.5 601.5,483.9 649.6,478.7" class="k kc"/>
<polyline points="216.7,524.4 264.8,522.4 312.9,518.9 361,509.9 409.1,488.6 457.2,456.6 505.3,422.7 553.4,402.4 601.5,392.7 649.6,390.5" class="r rc"/>
<polyline points="216.7,521.6 264.8,520.9 312.9,517.9 361,509.6 409.1,491.6 457.2,457.9 505.3,412.2 553.4,380.8 601.5,363.4 649.6,355.5" class="k ks"/>
<polyline points="216.7,522.6 264.8,522.5 312.9,520.9 361,522.3 409.1,518.2 457.2,509 505.3,498.2 553.4,488.8 601.5,481.8 649.6,480.6" class="k kt"/>
<polyline points="216.7,528.4 264.8,528.8 312.9,528.3 361,527 409.1,524.3 457.2,515.4 505.3,501.9 553.4,488.8 601.5,479.5 649.6,478.3" class="r rc"/>
<polyline points="216.7,523.2 264.8,522.5 312.9,519.1 361,510.5 409.1,497.2 457.2,481.4 505.3,462.6 553.4,450.7 601.5,447 649.6,442.4" class="r rq"/>
<polyline points="216.7,525.3 264.8,521 312.9,514 361,499 409.1,474.7 457.2,438.6 505.3,402.1 553.4,376.7 601.5,360 649.6,346.7" class="r rs"/>
<polyline points="216.7,518.1 264.8,515.2 312.9,509 361,497.1 409.1,477.9 457.2,447.9 505.3,418 553.4,393 601.5,375.9 649.6,366.5" class="k kc"/>
<polyline points="216.7,525.4 264.8,522.9 312.9,514.4 361,497.4 409.1,470.7 457.2,431.5 505.3,395.2 553.4,379.3 601.5,366.4 649.6,364.2" class="r rd"/>
<polyline points="216.7,520.9 264.8,518.8 312.9,515.7 361,506.8 409.1,482.8 457.2,445.7 505.3,402.1 553.4,371 601.5,355.7 649.6,351.5" class="r rc"/>
<polyline points="216.7,523.6 264.8,518.8 312.9,508.4 361,489 409.1,460.9 457.2,430.3 505.3,405.9 553.4,391.2 601.5,377.5 649.6,374.2" class="r rq"/>
<polyline points="216.7,520.8 264.8,520.3 312.9,517.6 361,512.5 409.1,504.1 457.2,490.4 505.3,470.7 553.4,455.1 601.5,444.9 649.6,437" class="r rc"/>
<polyline points="216.7,522.3 264.8,522.1 312.9,522.5 361,520.6 409.1,519.4 457.2,513.1 505.3,504.5 553.4,493.7 601.5,487.1 649.6,484.4" class="k kc"/>
<polyline points="216.7,525.5 264.8,526.2 312.9,524.3 361,523.4 409.1,520.1 457.2,514.6 505.3,502.3 553.4,492 601.5,485 649.6,482.7" class="r rq"/>
<polyline points="216.7,522.9 264.8,523 312.9,522.5 361,521.1 409.1,518.9 457.2,515.9 505.3,506.5 553.4,495.8 601.5,485.5 649.6,480.7" class="k kc"/>
<polyline points="216.7,527.5 264.8,525.2 312.9,522.2 361,513.3 409.1,494.3 457.2,462.2 505.3,425.7 553.4,395.2 601.5,381.8 649.6,375" class="r rt"/>
<polyline points="216.7,526.6 264.8,523.9 312.9,520.9 361,510.8 409.1,487.7 457.2,453.3 505.3,414.1 553.4,381.4 601.5,365.7 649.6,357.7" class="k kc"/>
<polyline points="216.7,524.9 264.8,524.2 312.9,522 361,518.3 409.1,510.6 457.2,500.3 505.3,488 553.4,475.1 601.5,465.8 649.6,461.7" class="r rc"/>
<polyline points="216.7,525.7 264.8,522.4 312.9,520 361,509.5 409.1,488.7 457.2,453.9 505.3,414 553.4,386 601.5,370.3 649.6,361.2" class="k ks"/>
<polyline points="216.7,523.7 264.8,521.3 312.9,512.3 361,499.5 409.1,474.1 457.2,437.2 505.3,399.8 553.4,376.8 601.5,368.6 649.6,359.8" class="r rc"/>
<polyline points="216.7,527.8 264.8,526.6 312.9,523.5 361,515.4 409.1,499.7 457.2,470.5 505.3,438.4 553.4,416.1 601.5,406.8 649.6,403.6" class="r rq"/>
<polyline points="216.7,528.3 264.8,526.9 312.9,523.1 361,514.8 409.1,494.3 457.2,461.1 505.3,428.9 553.4,408.3 601.5,394.8 649.6,395.5" class="r rc"/>
<polyline points="216.7,517.3 264.8,516.3 312.9,512.9 361,502.3 409.1,485.3 457.2,455.8 505.3,420.6 553.4,388.6 601.5,365.1 649.6,353.9" class="k kq"/>
<polyline points="216.7,525.2 264.8,523.8 312.9,522.4 361,516.7 409.1,507.3 457.2,490.5 505.3,472.2 553.4,457.4 601.5,448 649.6,443.5" class="r rc"/>
<polyline points="216.7,526.6 264.8,523.2 312.9,520.8 361,507.3 409.1,485.9 457.2,449.2 505.3,406.3 553.4,371.7 601.5,346.5 649.6,336.1" class="k ks"/>
<polyline points="216.7,521.2 264.8,519.9 312.9,515 361,505.6 409.1,482.4 457.2,441.9 505.3,400.3 553.4,369.6 601.5,350.7 649.6,345.1" class="r rc"/>
<polyline points="216.7,527.8 264.8,526.8 312.9,523.9 361,519.5 409.1,507.9 457.2,488.4 505.3,465.4 553.4,444.4 601.5,433.2 649.6,423.7" class="r rc"/>
<polyline points="216.7,527.4 264.8,527.6 312.9,526.1 361,524.9 409.1,521.9 457.2,512.3 505.3,500.6 553.4,492.4 601.5,484.5 649.6,479.9" class="k kc"/>
<polyline points="216.7,520.7 264.8,521.1 312.9,520.8 361,517.4 409.1,516.9 457.2,511.4 505.3,502.7 553.4,493.6 601.5,489.8 649.6,486.3" class="r rq"/>
<polyline points="216.7,521.3 264.8,520.4 312.9,514.7 361,504.1 409.1,482.1 457.2,441.7 505.3,398.5 553.4,365.1 601.5,347.8 649.6,343.9" class="k kd"/>
<polyline points="216.7,523.8 264.8,522 312.9,516.3 361,507.5 409.1,481 457.2,442.4 505.3,396.9 553.4,372.1 601.5,351.4 649.6,345.9" class="k kq"/>
<polyline points="216.7,520.5 264.8,520 312.9,519.6 361,519.2 409.1,518.2 457.2,513.6 505.3,504.8 553.4,492.4 601.5,485.9 649.6,484.4" class="k kc"/>
<polyline points="216.7,521.3 264.8,520.6 312.9,520.1 361,517.6 409.1,508.9 457.2,492.8 505.3,467.4 553.4,440.3 601.5,424.8 649.6,417.4" class="r rs"/>
<polyline points="216.7,523.3 264.8,522.4 312.9,522.8 361,521.8 409.1,518.9 457.2,512.8 505.3,502.7 553.4,490.1 601.5,480.1 649.6,477.9" class="k ks"/>
<polyline points="216.7,528.1 264.8,525 312.9,522.6 361,514.6 409.1,500.3 457.2,475.8 505.3,449.9 553.4,425.5 601.5,414.5 649.6,405.7" class="r rt"/>
<polyline points="216.7,527.1 264.8,521.9 312.9,514.7 361,495.6 409.1,469.3 457.2,435.7 505.3,402.3 553.4,380.4 601.5,369.6 649.6,365.2" class="r rc"/>
<polyline points="216.7,525.1 264.8,525.4 312.9,524.4 361,523.8 409.1,521.3 457.2,518.4 505.3,509.9 553.4,501.4 601.5,495.7 649.6,491.4" class="k ks"/>
<polyline points="216.7,528.3 264.8,527.7 312.9,527.5 361,528 409.1,526.8 457.2,520.9 505.3,509.2 553.4,499.4 601.5,492 649.6,488.7" class="k kc"/>
<polyline points="216.7,523.5 264.8,521.3 312.9,517.6 361,508.8 409.1,486.6 457.2,453.8 505.3,419.8 553.4,390.1 601.5,378.5 649.6,373.2" class="r rc"/>
<polyline points="216.7,527.1 264.8,525 312.9,518.1 361,505.3 409.1,482.9 457.2,447.7 505.3,403.5 553.4,365.2 601.5,341.5 649.6,323.4" class="k kd"/>
<polyline points="216.7,528 264.8,525.9 312.9,522.8 361,512.6 409.1,491.9 457.2,458.5 505.3,417.7 553.4,377.5 601.5,355.4 649.6,340.8" class="k kq"/>
<polyline points="216.7,524.3 264.8,523.8 312.9,516.7 361,506.1 409.1,485.2 457.2,452.7 505.3,423.1 553.4,402.6 601.5,398 649.6,395.7" class="r rd"/>
<polyline points="216.7,524.7 264.8,521.8 312.9,517.7 361,506.5 409.1,484.2 457.2,447.4 505.3,406.8 553.4,378.4 601.5,356 649.6,349.5" class="r rc"/>
<polyline points="216.7,525.5 264.8,523.3 312.9,522.7 361,518.6 409.1,507.7 457.2,495.1 505.3,475.2 553.4,457.3 601.5,443.7 649.6,439.5" class="r rt"/>
<polyline points="216.7,524.1 264.8,523 312.9,519.7 361,510.7 409.1,491.6 457.2,451.6 505.3,411.1 553.4,381 601.5,369.2 649.6,365.4" class="r rc"/>
<polyline points="216.7,523.6 264.8,522 312.9,519.5 361,513.5 409.1,499.5 457.2,469.3 505.3,435.1 553.4,408.9 601.5,398.2 649.6,391.8" class="r rc"/>
<polyline points="216.7,526.7 264.8,524.7 312.9,519 361,504.3 409.1,485.6 457.2,461.3 505.3,437.7 553.4,422.2 601.5,409 649.6,406.7" class="r rq"/>
<polyline points="216.7,528 264.8,527.1 312.9,523.7 361,514.8 409.1,496.4 457.2,464 505.3,417.5 553.4,377.9 601.5,350.8 649.6,332" class="k kd"/>
<polyline points="216.7,517.9 264.8,516.9 312.9,517.2 361,515.8 409.1,513.4 457.2,508.9 505.3,501.7 553.4,495.6 601.5,489.7 649.6,488" class="k kt"/>
<polyline points="216.7,521.2 264.8,520.7 312.9,521.6 361,520.9 409.1,517.7 457.2,512.7 505.3,506.5 553.4,497 601.5,493.3 649.6,490.2" class="k kd"/>
<polyline points="216.7,518.1 264.8,514.9 312.9,508.5 361,493.9 409.1,469.5 457.2,437.5 505.3,399.9 553.4,373.7 601.5,355.5 649.6,346.1" class="k kc"/>
<polyline points="216.7,523.6 264.8,522.9 312.9,523 361,523.4 409.1,521.1 457.2,515 505.3,504 553.4,495.1 601.5,488.9 649.6,488.2" class="k kc"/>
<polyline points="216.7,528 264.8,524.8 312.9,518.7 361,503.1 409.1,475.2 457.2,435.9 505.3,393.2 553.4,359.8 601.5,345.7 649.6,340" class="k kq"/>
<polyline points="216.7,527.4 264.8,527.8 312.9,522.6 361,515.7 409.1,494.9 457.2,455.9 505.3,400.9 553.4,362.2 601.5,347.1 649.6,338.5" class="k kd"/>
<polyline points="216.7,521.3 264.8,520 312.9,512.1 361,498.8 409.1,475.1 457.2,437 505.3,398.7 553.4,372.1 601.5,353.1 649.6,344.9" class="k ks"/>
<polyline points="216.7,528.3 264.8,529 312.9,528.4 361,526.9 409.1,524.2 457.2,520.1 505.3,511.1 553.4,501.5 601.5,499.5 649.6,496.1" class="k kq"/>
<polyline points="216.7,526.7 264.8,525.8 312.9,526.5 361,526.1 409.1,524.2 457.2,521.3 505.3,517.3 553.4,502.7 601.5,486.9 649.6,476.1" class="k kq"/>
<polyline points="216.7,528.4 264.8,528.4 312.9,528.4 361,526.5 409.1,524.4 457.2,518.6 505.3,507.8 553.4,497.7 601.5,492.9 649.6,489" class="k kc"/>
<polyline points="216.7,524.9 264.8,524.3 312.9,523.6 361,522.5 409.1,520.8 457.2,516.5 505.3,507.2 553.4,493.2 601.5,483 649.6,476.8" class="k kc"/>
<polyline points="216.7,526.7 264.8,526.2 312.9,526.3 361,524.9 409.1,517.9 457.2,507.9 505.3,496.4 553.4,486.9 601.5,483.3 649.6,483.8" class="k kc"/>
<polyline points="216.7,519 264.8,518.6 312.9,517.3 361,516.9 409.1,515.4 457.2,511.2 505.3,501.9 553.4,490.7 601.5,484.4 649.6,479.7" class="k kq"/>
<polyline points="216.7,518.4 264.8,519.8 312.9,518.4 361,517.2 409.1,517.8 457.2,514.4 505.3,507.7 553.4,502.6 601.5,500.5 649.6,497.3" class="k kc"/>
<polyline points="216.7,527 264.8,527 312.9,525.8 361,524.7 409.1,523.5 457.2,521.1 505.3,518.7 553.4,514 601.5,505.7 649.6,503.3" class="k kc"/>
<polyline points="216.7,527 264.8,525.8 312.9,525.8 361,524.7 409.1,522.3 457.2,518.7 505.3,515.2 553.4,517.5 601.5,506.9 649.6,510.4" class="r rc"/>
<polyline points="216.7,527 264.8,525.8 312.9,525.8 361,523.5 409.1,519.9 457.2,517.5 505.3,510.4 553.4,514 601.5,505.7 649.6,502.1" class="r rc"/>
<polyline points="216.7,527 264.8,525.8 312.9,524.7 361,524.7 409.1,523.5 457.2,522.3 505.3,518.7 553.4,521.8 601.5,509.3 649.6,505.7" class="r rd"/>
<polyline points="216.7,525.8 264.8,525.8 312.9,524.7 361,523.5 409.1,522.3 457.2,519.9 505.3,514 553.4,509.3 601.5,504.5 649.6,509.3" class="r rc"/>
<polyline points="216.7,525.8 264.8,527 312.9,527.6 361,527 409.1,525.8 457.2,525.8 505.3,523 553.4,518.7 601.5,525 649.6,524.1" class="r rc"/>
<polyline points="216.7,514.6 264.8,509.6 312.9,501 361,483.2 409.1,458.3 457.2,432.2 505.3,405 553.4,381.3 601.5,369.4 649.6,363.5" class="k kc"/>
<polyline points="216.7,501 264.8,502.7 312.9,506.9 361,498.6 409.1,487.9 457.2,470.1 505.3,452.4 553.4,437 601.5,428.7 649.6,422.8" class="k kd"/>
<polyline points="216.7,519.8 264.8,520.5 312.9,514.1 361,498.7 409.1,470.9 457.2,430.3 505.3,386 553.4,345.9 601.5,318.5 649.6,309" class="k kc"/>
<polyline points="216.7,519.6 264.8,521.9 312.9,514 361,498.3 409.1,470.3 457.2,429.1 505.3,384.4 553.4,343.8 601.5,316.1 649.6,305.4" class="k kc"/>
<polyline points="216.7,524.7 264.8,518.6 312.9,512.6 361,495 409.1,464 457.2,418.6 505.3,369 553.4,324.2 601.5,293.6 649.6,300.7" class="r rs"/>
<polyline points="216.7,525.8 264.8,521.3 312.9,513.3 361,496.6 409.1,467 457.2,423.6 505.3,376.3 553.4,333.5 601.5,304.2 649.6,295.4" class="k kq"/>
<polyline points="216.7,524.4 264.8,519.4 312.9,512.9 361,495.7 409.1,465.3 457.2,420.8 505.3,372.3 553.4,328.4 601.5,298.3 649.6,288.3" class="k ko"/>
<polyline points="216.7,524.5 264.8,523.4 312.9,512.3 361,494.3 409.1,462.5 457.2,416.1 505.3,365.4 553.4,319.6 601.5,288.3 649.6,282.9" class="k kc"/>
<polyline points="216.7,524.1 264.8,520.5 312.9,511.9 361,493.2 409.1,460.6 457.2,412.7 505.3,360.6 553.4,313.4 601.5,281.1 649.6,277" class="r rc"/>
<polyline points="216.7,522.2 264.8,519.7 312.9,511.7 361,492.8 409.1,459.7 457.2,411.3 505.3,358.6 553.4,310.8 601.5,278.2 649.6,269.9" class="k kc"/>
<polyline points="216.7,519.3 264.8,520.7 312.9,511.2 361,491.8 409.1,457.8 457.2,408 505.3,353.7 553.4,319.7 601.5,271.1 649.6,261.6" class="k kc"/>
<polyline points="216.7,522.2 264.8,523.3 312.9,510.9 361,490.9 409.1,456.1 457.2,405.2 505.3,349.7 553.4,313.3 601.5,265.1 649.6,258.7" class="k kq"/>
<polyline points="216.7,525.5 264.8,519.8 312.9,512.4 361,494.5 409.1,463 457.2,416.8 505.3,357.6 553.4,306.9 601.5,262.2 649.6,255.3" class="k kt"/>
<polyline points="216.7,524.7 264.8,522.2 312.9,511.6 361,492.7 409.1,459.5 457.2,410.9 505.3,351.6 553.4,292.4 601.5,242.9 649.6,217.5" class="k ko"/>
<polyline points="216.7,518.8 264.8,519.8 312.9,510.9 361,490.8 409.1,456 457.2,405 505.3,345.7 553.4,265.9 601.5,220.4 649.6,214.5" class="k ks"/>
<polyline points="216.7,520.2 264.8,517.6 312.9,510.4 361,489.7 409.1,453.9 457.2,401.4 505.3,339.8 553.4,261.5 601.5,220.4 649.6,201.9" class="k kd"/>
<polyline points="216.7,521.9 264.8,520.5 312.9,510.1 361,489 409.1,452.5 457.2,399 505.3,333.3 553.4,286.5 601.5,203.9 649.6,171.6" class="k kt"/>
<polyline points="216.7,522.7 264.8,522 312.9,509.3 361,487.2 409.1,449 457.2,393.1 505.3,322.3 553.4,245.4 601.5,190.1 649.6,168" class="k ko"/>
<polyline points="216.7,523.9 264.8,521.7 312.9,507.8 361,482 409.1,434.6 457.2,381.3 505.3,297.4 553.4,226.2 601.5,184.3 649.6,184.3" class="k kq"/>
<polyline points="216.7,522.5 264.8,518.8 312.9,506.2 361,478.4 409.1,422.8 457.2,369.4 505.3,287.7 553.4,221.5 601.5,177.5 649.6,162.8" class="k kc"/>
<polyline points="216.7,520 264.8,523.4 312.9,508.5 361,485.3 409.1,432.2 457.2,387.2 505.3,339.8 553.4,298 601.5,257.3 649.6,242" class="r rs"/>
<polyline points="216.7,519.6 264.8,521.7 312.9,509.8 361,488.3 409.1,451.2 457.2,396.8 505.3,324.9 553.4,271.1 601.5,247.3 649.6,240.6" class="r rd"/>
<polyline points="216.7,524.2 264.8,518.9 312.9,507 361,479.6 409.1,434.6 457.2,375.4 505.3,304.8 553.4,221.5 601.5,192.4 649.6,177.1" class="r rs"/>
<polyline points="216.7,519.5 264.8,519.8 312.9,505.2 361,476.1 409.1,428.7 457.2,361.1 505.3,281.3 553.4,202.3 601.5,161.2 649.6,146.8" class="r rc"/>
<polyline points="216.7,522.3 264.8,518.7 312.9,502.1 361,465.4 409.1,403.8 457.2,322.3 505.3,252.6 553.4,202.3 601.5,170.2 649.6,164.4" class="r rs"/>
<polyline points="216.7,518.7 264.8,516.4 312.9,504.5 361,471.9 409.1,419.6 457.2,342.2 505.3,256.8 553.4,182.2 601.5,128.9 649.6,107.3" class="k ko"/>
</g>
<text x="191.7" y="538.1" text-anchor="end">0</text><text x="191.7" y="478.8" text-anchor="end">5</text><text x="191.7" y="419.6" text-anchor="end">10</text><text x="191.7" y="360.3" text-anchor="end">15</text><text x="191.7" y="301.1" text-anchor="end">20</text><text x="191.7" y="241.8" text-anchor="end">25</text><text x="191.7" y="182.6" text-anchor="end">30</text><text x="191.7" y="123.3" text-anchor="end">35</text>
<text x="215.7" y="552.8" text-anchor="middle">1</text><text x="263.8" y="552.8" text-anchor="middle">2</text><text x="311.9" y="552.8" text-anchor="middle">3</text><text x="360.0" y="552.8" text-anchor="middle">4</text><text x="408.1" y="552.8" text-anchor="middle">5</text><text x="456.2" y="552.8" text-anchor="middle">6</text><text x="504.3" y="552.8" text-anchor="middle">7</text><text x="552.4" y="552.8" text-anchor="middle">8</text><text x="600.5" y="552.8" text-anchor="middle">9</text><text x="650.1" y="552.8" text-anchor="middle">10</text>
<text x="671" y="576.2" text-anchor="end" style="font-size:22.7px">Point ID</text>
<text transform="translate(155,231) rotate(-90)">Amplitude [mV]</text>
<path d="M244.3 167.1h20" stroke="#f33" stroke-width="1"/><circle cx="254.5" cy="167.1" r="2" fill="#f00"/>
<text x="268" y="173.8" style="font-size:22.8px">Simulation Waveform</text>
<path d="M244.3 202.4h20" stroke="#000" stroke-width="1"/><circle cx="254.5" cy="202.4" r="2" fill="#000"/>
<text x="268" y="209.1" style="font-size:22.8px">Experiment Waveform</text>
</svg>
</body></html>
